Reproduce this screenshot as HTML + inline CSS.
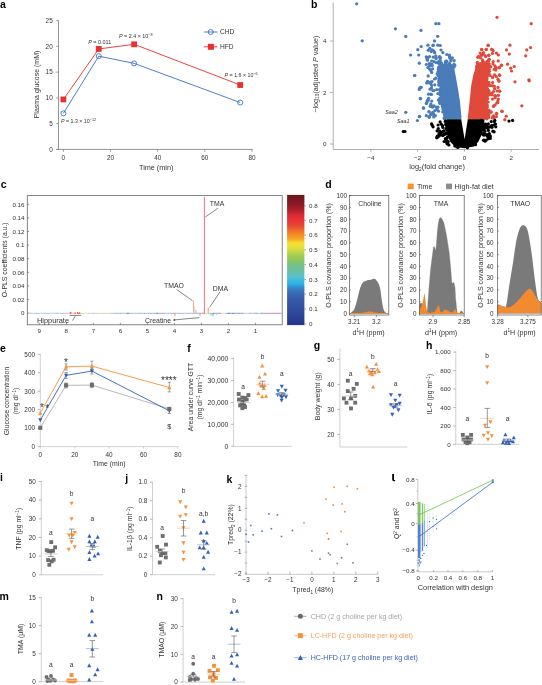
<!DOCTYPE html>
<html><head><meta charset="utf-8"><title>figure</title>
<style>
html,body{margin:0;padding:0;background:#fff;width:542px;height:685px;overflow:hidden}
svg{display:block;will-change:transform}
text{font-family:"Liberation Sans", sans-serif}
</style></head><body>
<svg width="542" height="685" viewBox="0 0 542 685" font-family="&quot;Liberation Sans&quot;, sans-serif" fill="#333">
<text x="0.00" y="7.60" font-size="10.5" font-weight="bold" fill="#000">a</text>
<line x1="58.50" y1="20.50" x2="58.50" y2="149.40" stroke="#8a8a8a" stroke-width="0.9"/>
<line x1="56.30" y1="149.40" x2="252.50" y2="149.40" stroke="#8a8a8a" stroke-width="0.9"/>
<line x1="56.30" y1="149.40" x2="58.50" y2="149.40" stroke="#8a8a8a" stroke-width="0.9"/>
<text x="52.70" y="151.67" font-size="6.4" text-anchor="end">0</text>
<line x1="56.30" y1="123.64" x2="58.50" y2="123.64" stroke="#8a8a8a" stroke-width="0.9"/>
<text x="52.70" y="125.91" font-size="6.4" text-anchor="end">5</text>
<line x1="56.30" y1="97.88" x2="58.50" y2="97.88" stroke="#8a8a8a" stroke-width="0.9"/>
<text x="52.70" y="100.15" font-size="6.4" text-anchor="end">10</text>
<line x1="56.30" y1="72.12" x2="58.50" y2="72.12" stroke="#8a8a8a" stroke-width="0.9"/>
<text x="52.70" y="74.39" font-size="6.4" text-anchor="end">15</text>
<line x1="56.30" y1="46.36" x2="58.50" y2="46.36" stroke="#8a8a8a" stroke-width="0.9"/>
<text x="52.70" y="48.63" font-size="6.4" text-anchor="end">20</text>
<line x1="56.30" y1="20.60" x2="58.50" y2="20.60" stroke="#8a8a8a" stroke-width="0.9"/>
<text x="52.70" y="22.87" font-size="6.4" text-anchor="end">25</text>
<line x1="63.40" y1="149.40" x2="63.40" y2="151.70" stroke="#8a8a8a" stroke-width="0.9"/>
<text x="63.40" y="159.67" font-size="6.4" text-anchor="middle">0</text>
<line x1="110.54" y1="149.40" x2="110.54" y2="151.70" stroke="#8a8a8a" stroke-width="0.9"/>
<text x="110.54" y="159.67" font-size="6.4" text-anchor="middle">20</text>
<line x1="157.68" y1="149.40" x2="157.68" y2="151.70" stroke="#8a8a8a" stroke-width="0.9"/>
<text x="157.68" y="159.67" font-size="6.4" text-anchor="middle">40</text>
<line x1="204.82" y1="149.40" x2="204.82" y2="151.70" stroke="#8a8a8a" stroke-width="0.9"/>
<text x="204.82" y="159.67" font-size="6.4" text-anchor="middle">60</text>
<line x1="251.96" y1="149.40" x2="251.96" y2="151.70" stroke="#8a8a8a" stroke-width="0.9"/>
<text x="251.96" y="159.67" font-size="6.4" text-anchor="middle">80</text>
<text x="156.20" y="170.17" font-size="7.25" text-anchor="middle">Time (min)</text>
<text transform="translate(36.60,84.50) rotate(-90)" x="0" y="2.48" font-size="7" text-anchor="middle">Plasma glucose (mM)</text>
<polyline points="63.40,99.43 98.75,48.94 134.11,44.30 240.18,85.00" fill="none" stroke="#e8302c" stroke-width="0.9"/>
<polyline points="63.40,113.34 98.75,56.15 134.11,63.36 240.18,102.52" fill="none" stroke="#3d6fc4" stroke-width="0.9"/>
<rect x="60.50" y="96.53" width="5.80" height="5.80" fill="#e8302c" stroke="none" stroke-width="0"/>
<rect x="95.85" y="46.04" width="5.80" height="5.80" fill="#e8302c" stroke="none" stroke-width="0"/>
<rect x="131.21" y="41.40" width="5.80" height="5.80" fill="#e8302c" stroke="none" stroke-width="0"/>
<rect x="237.28" y="82.10" width="5.80" height="5.80" fill="#e8302c" stroke="none" stroke-width="0"/>
<circle cx="63.40" cy="113.34" r="2.50" fill="none" stroke="#3d6fc4" stroke-width="0.9"/>
<circle cx="98.75" cy="56.15" r="2.50" fill="none" stroke="#3d6fc4" stroke-width="0.9"/>
<circle cx="134.11" cy="63.36" r="2.50" fill="none" stroke="#3d6fc4" stroke-width="0.9"/>
<circle cx="240.18" cy="102.52" r="2.50" fill="none" stroke="#3d6fc4" stroke-width="0.9"/>
<text x="88.2" y="43.63" font-size="6.0" fill="#333" textLength="23.0" lengthAdjust="spacingAndGlyphs"><tspan font-style="italic">P</tspan> = 0.011</text>
<text x="119.0" y="37.83" font-size="6.0" fill="#333" textLength="33.5" lengthAdjust="spacingAndGlyphs"><tspan font-style="italic">P</tspan> = 2.4 × 10<tspan dy="-2.2" font-size="4.2">−8</tspan></text>
<text x="224.6" y="77.23" font-size="6.0" fill="#333" textLength="33.0" lengthAdjust="spacingAndGlyphs"><tspan font-style="italic">P</tspan> = 1.6 × 10<tspan dy="-2.2" font-size="4.2">−6</tspan></text>
<text x="61.0" y="122.93" font-size="6.0" fill="#333" textLength="35.0" lengthAdjust="spacingAndGlyphs"><tspan font-style="italic">P</tspan> = 1.3 × 10<tspan dy="-2.2" font-size="4.2">−12</tspan></text>
<line x1="203.80" y1="32.00" x2="217.60" y2="32.00" stroke="#3d6fc4" stroke-width="0.9"/>
<circle cx="210.70" cy="32.00" r="2.50" fill="white" stroke="#3d6fc4" stroke-width="0.9"/>
<line x1="208.00" y1="32.00" x2="213.40" y2="32.00" stroke="#3d6fc4" stroke-width="0.9"/>
<text x="219.90" y="34.44" font-size="6.6">CHD</text>
<line x1="203.80" y1="46.80" x2="217.60" y2="46.80" stroke="#e8302c" stroke-width="0.9"/>
<rect x="207.90" y="43.80" width="6.00" height="6.00" fill="#e8302c" stroke="none" stroke-width="0"/>
<text x="219.90" y="49.24" font-size="6.6">HFD</text>
<text x="311.00" y="7.60" font-size="10.5" font-weight="bold" fill="#000">b</text>
<line x1="333.20" y1="2.50" x2="333.20" y2="149.50" stroke="#9a9a9a" stroke-width="0.8"/>
<line x1="333.20" y1="149.50" x2="539.00" y2="149.50" stroke="#9a9a9a" stroke-width="0.8"/>
<line x1="330.00" y1="144.00" x2="333.20" y2="144.00" stroke="#9a9a9a" stroke-width="0.8"/>
<text x="326.50" y="146.20" font-size="6.2" text-anchor="end">0</text>
<line x1="330.00" y1="92.50" x2="333.20" y2="92.50" stroke="#9a9a9a" stroke-width="0.8"/>
<text x="326.50" y="94.70" font-size="6.2" text-anchor="end">2</text>
<line x1="330.00" y1="41.00" x2="333.20" y2="41.00" stroke="#9a9a9a" stroke-width="0.8"/>
<text x="326.50" y="43.20" font-size="6.2" text-anchor="end">4</text>
<line x1="370.80" y1="149.50" x2="370.80" y2="151.80" stroke="#9a9a9a" stroke-width="0.8"/>
<text x="370.80" y="159.80" font-size="6.2" text-anchor="middle">−4</text>
<line x1="417.60" y1="149.50" x2="417.60" y2="151.80" stroke="#9a9a9a" stroke-width="0.8"/>
<text x="417.60" y="159.80" font-size="6.2" text-anchor="middle">−2</text>
<line x1="464.40" y1="149.50" x2="464.40" y2="151.80" stroke="#9a9a9a" stroke-width="0.8"/>
<text x="464.40" y="159.80" font-size="6.2" text-anchor="middle">0</text>
<line x1="511.20" y1="149.50" x2="511.20" y2="151.80" stroke="#9a9a9a" stroke-width="0.8"/>
<text x="511.20" y="159.80" font-size="6.2" text-anchor="middle">2</text>
<text x="437" y="169.16" font-size="7.4" text-anchor="middle" fill="#333">log<tspan dy="1.6" font-size="4.8">2</tspan><tspan dy="-1.6">(fold change)</tspan></text>
<text transform="translate(315.3,74.2) rotate(-90)" x="0" y="2.56" font-size="7.2" text-anchor="middle" fill="#333">−log<tspan dy="1.6" font-size="4.8">10</tspan><tspan dy="-1.6">(adjusted </tspan><tspan font-style="italic">P</tspan> value)</text>
<text x="397.80" y="113.72" font-size="5.4" text-anchor="end" font-style="italic">Saa2</text>
<text x="397.00" y="122.92" font-size="5.4" font-style="italic">Saa1</text>
<polygon points="438.50,66.00 437.90,75.50 438.40,80.70 439.90,90.90 440.40,101.10 442.50,111.30 444.50,117.40 445.00,119.30 461.40,119.30 461.40,116.40 459.90,101.00 457.80,87.80 455.50,75.00 453.70,65.00 450.00,63.50 444.00,65.00" fill="#497cb9" stroke="none" stroke-width="0"/>
<polygon points="476.30,63.20 481.00,62.00 488.00,62.50 490.60,65.20 487.50,75.40 488.50,85.70 488.50,95.90 487.50,106.10 488.50,112.00 487.00,119.40 467.60,119.40 469.10,106.10 470.20,95.90 471.20,85.70 473.20,75.40 476.30,65.20" fill="#e04a3b" stroke="none" stroke-width="0"/>
<polygon points="447.00,119.30 461.20,119.30 464.60,139.30 467.80,119.30 484.50,119.30 484.00,128.00 481.50,135.00 478.50,141.50 474.00,146.50 464.50,148.20 455.00,146.80 450.00,141.50 447.30,134.00 446.80,126.00" fill="#000" stroke="none" stroke-width="0"/>
<g fill="#497cb9"><circle cx="438.6" cy="67.4" r="1.62"/><circle cx="438.3" cy="69.1" r="1.62"/><circle cx="438.2" cy="71.2" r="1.62"/><circle cx="437.2" cy="73.7" r="1.62"/><circle cx="438.5" cy="76.0" r="1.62"/><circle cx="439.1" cy="79.1" r="1.62"/><circle cx="438.8" cy="80.8" r="1.62"/><circle cx="438.8" cy="82.4" r="1.62"/><circle cx="438.7" cy="85.1" r="1.62"/><circle cx="439.5" cy="89.6" r="1.62"/><circle cx="440.2" cy="91.6" r="1.62"/><circle cx="440.0" cy="93.9" r="1.62"/><circle cx="441.2" cy="98.0" r="1.62"/><circle cx="439.9" cy="98.9" r="1.62"/><circle cx="439.6" cy="102.0" r="1.62"/><circle cx="441.7" cy="103.9" r="1.62"/><circle cx="442.4" cy="106.4" r="1.62"/><circle cx="442.9" cy="109.0" r="1.62"/><circle cx="442.8" cy="111.9" r="1.62"/><circle cx="444.4" cy="114.8" r="1.62"/><circle cx="444.2" cy="118.4" r="1.62"/><circle cx="444.4" cy="117.9" r="1.62"/><circle cx="444.5" cy="117.5" r="1.62"/><circle cx="445.9" cy="114.5" r="1.62"/><circle cx="446.6" cy="111.6" r="1.62"/><circle cx="445.8" cy="109.4" r="1.62"/><circle cx="446.4" cy="108.7" r="1.62"/><circle cx="446.9" cy="105.6" r="1.62"/><circle cx="447.4" cy="103.9" r="1.62"/><circle cx="447.2" cy="101.5" r="1.62"/><circle cx="447.8" cy="99.2" r="1.62"/><circle cx="448.3" cy="95.4" r="1.62"/><circle cx="449.2" cy="93.8" r="1.62"/><circle cx="449.2" cy="91.4" r="1.62"/><circle cx="449.9" cy="89.0" r="1.62"/><circle cx="449.6" cy="86.0" r="1.62"/><circle cx="451.2" cy="83.8" r="1.62"/><circle cx="451.3" cy="83.8" r="1.62"/><circle cx="452.1" cy="81.4" r="1.62"/><circle cx="451.5" cy="77.1" r="1.62"/><circle cx="452.8" cy="75.7" r="1.62"/><circle cx="451.9" cy="73.9" r="1.62"/><circle cx="452.3" cy="70.5" r="1.62"/><circle cx="452.2" cy="68.2" r="1.62"/><circle cx="454.1" cy="66.9" r="1.62"/><circle cx="454.0" cy="64.2" r="1.62"/><circle cx="449.5" cy="63.4" r="1.62"/><circle cx="446.3" cy="64.0" r="1.62"/><circle cx="442.5" cy="64.9" r="1.62"/><circle cx="441.0" cy="66.0" r="1.62"/><circle cx="429.8" cy="48.3" r="1.62"/><circle cx="430.8" cy="83.8" r="1.62"/><circle cx="434.5" cy="79.0" r="1.62"/><circle cx="426.3" cy="103.5" r="1.62"/><circle cx="426.7" cy="102.8" r="1.62"/><circle cx="427.9" cy="67.5" r="1.62"/><circle cx="434.7" cy="52.7" r="1.62"/><circle cx="427.6" cy="81.3" r="1.62"/><circle cx="434.0" cy="105.8" r="1.62"/><circle cx="433.6" cy="113.9" r="1.62"/><circle cx="431.4" cy="114.1" r="1.62"/><circle cx="426.9" cy="58.8" r="1.62"/><circle cx="431.8" cy="64.1" r="1.62"/><circle cx="434.0" cy="90.6" r="1.62"/><circle cx="431.8" cy="106.1" r="1.62"/><circle cx="432.2" cy="65.7" r="1.62"/><circle cx="430.2" cy="106.2" r="1.62"/><circle cx="435.9" cy="57.8" r="1.62"/><circle cx="435.4" cy="115.6" r="1.62"/><circle cx="431.8" cy="85.5" r="1.62"/><circle cx="428.2" cy="82.7" r="1.62"/><circle cx="431.5" cy="88.0" r="1.62"/><circle cx="426.3" cy="115.7" r="1.62"/><circle cx="431.7" cy="72.4" r="1.62"/><circle cx="434.8" cy="84.8" r="1.62"/><circle cx="431.4" cy="94.5" r="1.62"/><circle cx="426.7" cy="82.9" r="1.62"/><circle cx="430.6" cy="114.7" r="1.62"/><circle cx="436.2" cy="62.5" r="1.62"/><circle cx="431.2" cy="51.6" r="1.62"/><circle cx="430.8" cy="104.0" r="1.62"/><circle cx="435.9" cy="78.2" r="1.62"/><circle cx="429.5" cy="56.6" r="1.62"/><circle cx="432.8" cy="112.3" r="1.62"/><circle cx="427.4" cy="101.2" r="1.62"/><circle cx="426.3" cy="56.8" r="1.62"/><circle cx="428.5" cy="94.2" r="1.62"/><circle cx="429.5" cy="69.0" r="1.62"/><circle cx="432.8" cy="50.0" r="1.62"/><circle cx="434.0" cy="51.3" r="1.62"/><circle cx="431.6" cy="61.0" r="1.62"/><circle cx="428.2" cy="82.3" r="1.62"/><circle cx="430.8" cy="70.6" r="1.62"/><circle cx="430.5" cy="82.2" r="1.62"/><circle cx="427.8" cy="57.5" r="1.62"/><circle cx="432.9" cy="90.5" r="1.62"/><circle cx="431.8" cy="106.7" r="1.62"/><circle cx="432.7" cy="107.1" r="1.62"/><circle cx="428.6" cy="98.3" r="1.62"/><circle cx="434.9" cy="110.6" r="1.62"/><circle cx="429.5" cy="65.9" r="1.62"/><circle cx="436.2" cy="58.6" r="1.62"/><circle cx="437.0" cy="109.5" r="1.62"/><circle cx="427.5" cy="60.2" r="1.62"/><circle cx="434.0" cy="61.7" r="1.62"/><circle cx="439.6" cy="64.3" r="1.62"/><circle cx="445.2" cy="63.9" r="1.62"/><circle cx="440.1" cy="60.0" r="1.62"/><circle cx="449.6" cy="56.2" r="1.62"/><circle cx="441.4" cy="62.8" r="1.62"/><circle cx="453.5" cy="65.7" r="1.62"/><circle cx="440.0" cy="61.1" r="1.62"/><circle cx="450.9" cy="61.0" r="1.62"/><circle cx="449.7" cy="57.9" r="1.62"/><circle cx="439.2" cy="57.1" r="1.62"/><circle cx="438.6" cy="61.5" r="1.62"/><circle cx="446.8" cy="61.7" r="1.62"/><circle cx="440.5" cy="57.8" r="1.62"/><circle cx="441.5" cy="64.4" r="1.62"/><circle cx="454.8" cy="65.3" r="1.62"/><circle cx="439.6" cy="56.6" r="1.62"/><circle cx="454.2" cy="60.6" r="1.62"/><circle cx="451.0" cy="59.3" r="1.62"/><circle cx="445.9" cy="61.2" r="1.62"/><circle cx="445.3" cy="62.0" r="1.62"/><circle cx="438.2" cy="63.0" r="1.62"/><circle cx="452.4" cy="57.8" r="1.62"/><circle cx="438.3" cy="100.0" r="1.62"/><circle cx="438.0" cy="75.0" r="1.62"/><circle cx="436.8" cy="89.6" r="1.62"/><circle cx="436.1" cy="107.1" r="1.62"/><circle cx="440.0" cy="98.4" r="1.62"/><circle cx="440.3" cy="95.0" r="1.62"/><circle cx="438.0" cy="93.6" r="1.62"/><circle cx="438.5" cy="111.2" r="1.62"/><circle cx="440.0" cy="77.9" r="1.62"/><circle cx="440.6" cy="100.2" r="1.62"/><circle cx="439.9" cy="103.5" r="1.62"/><circle cx="438.0" cy="107.2" r="1.62"/><circle cx="440.4" cy="98.0" r="1.62"/><circle cx="439.8" cy="101.2" r="1.62"/><circle cx="356.7" cy="3.8" r="1.62"/><circle cx="362.2" cy="40.8" r="1.62"/><circle cx="395.4" cy="28.8" r="1.62"/><circle cx="405.8" cy="36.4" r="1.62"/><circle cx="421.0" cy="30.4" r="1.62"/><circle cx="435.8" cy="23.7" r="1.62"/><circle cx="438.9" cy="23.7" r="1.62"/><circle cx="437.7" cy="36.3" r="1.62"/><circle cx="434.5" cy="40.9" r="1.62"/><circle cx="427.9" cy="45.2" r="1.62"/><circle cx="421.2" cy="46.5" r="1.62"/><circle cx="417.8" cy="49.7" r="1.62"/><circle cx="418.7" cy="55.0" r="1.62"/><circle cx="410.6" cy="55.0" r="1.62"/><circle cx="428.2" cy="50.3" r="1.62"/><circle cx="433.0" cy="45.5" r="1.62"/><circle cx="419.3" cy="63.2" r="1.62"/><circle cx="426.3" cy="64.5" r="1.62"/><circle cx="429.2" cy="63.6" r="1.62"/><circle cx="414.6" cy="75.5" r="1.62"/><circle cx="428.2" cy="75.9" r="1.62"/><circle cx="432.0" cy="81.6" r="1.62"/><circle cx="419.7" cy="88.2" r="1.62"/><circle cx="421.2" cy="87.3" r="1.62"/><circle cx="430.1" cy="89.2" r="1.62"/><circle cx="420.6" cy="98.7" r="1.62"/><circle cx="427.3" cy="100.6" r="1.62"/><circle cx="423.5" cy="108.2" r="1.62"/><circle cx="405.8" cy="112.3" r="1.62"/><circle cx="419.3" cy="116.7" r="1.62"/><circle cx="417.4" cy="120.5" r="1.62"/><circle cx="429.2" cy="112.0" r="1.62"/><circle cx="429.2" cy="116.7" r="1.62"/><circle cx="433.9" cy="115.7" r="1.62"/><circle cx="433.2" cy="45.2" r="1.62"/><circle cx="437.8" cy="45.2" r="1.62"/><circle cx="440.3" cy="45.5" r="1.62"/><circle cx="431.9" cy="50.0" r="1.62"/><circle cx="441.0" cy="50.0" r="1.62"/><circle cx="442.9" cy="52.6" r="1.62"/><circle cx="446.8" cy="54.5" r="1.62"/><circle cx="449.4" cy="55.2" r="1.62"/><circle cx="435.8" cy="55.8" r="1.62"/><circle cx="433.2" cy="57.1" r="1.62"/><circle cx="446.8" cy="61.0" r="1.62"/><circle cx="430.6" cy="64.2" r="1.62"/><circle cx="432.6" cy="68.8" r="1.62"/><circle cx="414.8" cy="75.5" r="1.62"/><circle cx="420.6" cy="87.3" r="1.62"/><circle cx="419.2" cy="89.4" r="1.62"/><circle cx="420.3" cy="98.6" r="1.62"/><circle cx="423.4" cy="107.8" r="1.62"/><circle cx="419.6" cy="116.3" r="1.62"/><circle cx="428.9" cy="111.5" r="1.62"/><circle cx="429.3" cy="117.3" r="1.62"/><circle cx="433.7" cy="117.0" r="1.62"/><circle cx="428.2" cy="100.4" r="1.62"/><circle cx="431.7" cy="101.1" r="1.62"/><circle cx="432.3" cy="106.2" r="1.62"/><circle cx="431.0" cy="94.2" r="1.62"/></g>
<g fill="#e04a3b"><circle cx="477.3" cy="62.3" r="1.62"/><circle cx="477.7" cy="63.4" r="1.62"/><circle cx="482.7" cy="61.1" r="1.62"/><circle cx="484.0" cy="62.7" r="1.62"/><circle cx="487.0" cy="61.5" r="1.62"/><circle cx="489.2" cy="64.0" r="1.62"/><circle cx="490.7" cy="66.7" r="1.62"/><circle cx="489.2" cy="69.3" r="1.62"/><circle cx="489.4" cy="71.3" r="1.62"/><circle cx="488.7" cy="74.0" r="1.62"/><circle cx="487.3" cy="76.4" r="1.62"/><circle cx="487.0" cy="79.0" r="1.62"/><circle cx="488.9" cy="82.3" r="1.62"/><circle cx="488.8" cy="83.8" r="1.62"/><circle cx="489.2" cy="85.4" r="1.62"/><circle cx="487.6" cy="89.4" r="1.62"/><circle cx="488.0" cy="91.8" r="1.62"/><circle cx="488.7" cy="94.8" r="1.62"/><circle cx="487.5" cy="95.8" r="1.62"/><circle cx="487.6" cy="98.7" r="1.62"/><circle cx="488.2" cy="102.0" r="1.62"/><circle cx="487.3" cy="105.0" r="1.62"/><circle cx="487.4" cy="107.0" r="1.62"/><circle cx="489.0" cy="110.2" r="1.62"/><circle cx="488.0" cy="112.0" r="1.62"/><circle cx="488.6" cy="115.8" r="1.62"/><circle cx="488.2" cy="117.4" r="1.62"/><circle cx="486.9" cy="118.8" r="1.62"/><circle cx="486.4" cy="117.3" r="1.62"/><circle cx="485.7" cy="115.2" r="1.62"/><circle cx="485.4" cy="111.0" r="1.62"/><circle cx="486.0" cy="109.8" r="1.62"/><circle cx="484.8" cy="107.4" r="1.62"/><circle cx="483.3" cy="104.8" r="1.62"/><circle cx="483.0" cy="104.4" r="1.62"/><circle cx="482.8" cy="100.9" r="1.62"/><circle cx="482.9" cy="99.5" r="1.62"/><circle cx="483.2" cy="97.9" r="1.62"/><circle cx="481.5" cy="94.8" r="1.62"/><circle cx="480.8" cy="93.1" r="1.62"/><circle cx="480.6" cy="90.0" r="1.62"/><circle cx="481.3" cy="88.7" r="1.62"/><circle cx="481.0" cy="86.0" r="1.62"/><circle cx="480.8" cy="83.0" r="1.62"/><circle cx="480.0" cy="80.8" r="1.62"/><circle cx="479.5" cy="80.7" r="1.62"/><circle cx="478.9" cy="78.6" r="1.62"/><circle cx="479.2" cy="75.1" r="1.62"/><circle cx="477.3" cy="73.6" r="1.62"/><circle cx="477.7" cy="71.3" r="1.62"/><circle cx="477.9" cy="70.3" r="1.62"/><circle cx="476.6" cy="66.9" r="1.62"/><circle cx="477.1" cy="65.6" r="1.62"/><circle cx="492.5" cy="99.1" r="1.62"/><circle cx="488.8" cy="73.2" r="1.62"/><circle cx="493.2" cy="50.7" r="1.62"/><circle cx="491.9" cy="93.4" r="1.62"/><circle cx="494.9" cy="65.8" r="1.62"/><circle cx="498.4" cy="95.3" r="1.62"/><circle cx="491.7" cy="94.9" r="1.62"/><circle cx="494.3" cy="86.2" r="1.62"/><circle cx="492.3" cy="118.0" r="1.62"/><circle cx="495.1" cy="97.7" r="1.62"/><circle cx="496.4" cy="116.6" r="1.62"/><circle cx="488.3" cy="91.8" r="1.62"/><circle cx="496.1" cy="67.5" r="1.62"/><circle cx="492.4" cy="53.4" r="1.62"/><circle cx="490.1" cy="75.5" r="1.62"/><circle cx="489.1" cy="67.1" r="1.62"/><circle cx="498.0" cy="87.4" r="1.62"/><circle cx="493.6" cy="115.8" r="1.62"/><circle cx="494.2" cy="117.7" r="1.62"/><circle cx="495.0" cy="105.0" r="1.62"/><circle cx="488.8" cy="90.6" r="1.62"/><circle cx="496.4" cy="53.1" r="1.62"/><circle cx="498.2" cy="60.9" r="1.62"/><circle cx="493.2" cy="61.5" r="1.62"/><circle cx="493.5" cy="91.6" r="1.62"/><circle cx="488.6" cy="114.3" r="1.62"/><circle cx="492.6" cy="85.8" r="1.62"/><circle cx="494.6" cy="74.9" r="1.62"/><circle cx="491.1" cy="94.5" r="1.62"/><circle cx="494.2" cy="69.3" r="1.62"/><circle cx="495.9" cy="70.1" r="1.62"/><circle cx="488.2" cy="66.7" r="1.62"/><circle cx="488.5" cy="60.6" r="1.62"/><circle cx="496.3" cy="76.5" r="1.62"/><circle cx="497.9" cy="100.9" r="1.62"/><circle cx="488.6" cy="117.2" r="1.62"/><circle cx="498.4" cy="55.0" r="1.62"/><circle cx="498.0" cy="79.2" r="1.62"/><circle cx="493.3" cy="116.2" r="1.62"/><circle cx="490.7" cy="85.6" r="1.62"/><circle cx="498.3" cy="99.1" r="1.62"/><circle cx="493.2" cy="116.6" r="1.62"/><circle cx="497.0" cy="91.0" r="1.62"/><circle cx="489.3" cy="92.4" r="1.62"/><circle cx="493.0" cy="63.8" r="1.62"/><circle cx="477.7" cy="57.3" r="1.62"/><circle cx="478.6" cy="56.4" r="1.62"/><circle cx="485.7" cy="56.6" r="1.62"/><circle cx="480.4" cy="57.8" r="1.62"/><circle cx="482.5" cy="59.8" r="1.62"/><circle cx="483.9" cy="62.0" r="1.62"/><circle cx="489.4" cy="59.3" r="1.62"/><circle cx="480.1" cy="53.1" r="1.62"/><circle cx="488.6" cy="59.8" r="1.62"/><circle cx="485.1" cy="55.6" r="1.62"/><circle cx="497.0" cy="17.3" r="1.62"/><circle cx="531.2" cy="23.7" r="1.62"/><circle cx="488.2" cy="45.5" r="1.62"/><circle cx="509.9" cy="45.2" r="1.62"/><circle cx="481.8" cy="49.7" r="1.62"/><circle cx="486.3" cy="49.3" r="1.62"/><circle cx="491.7" cy="49.4" r="1.62"/><circle cx="506.5" cy="49.9" r="1.62"/><circle cx="530.6" cy="47.6" r="1.62"/><circle cx="526.8" cy="49.9" r="1.62"/><circle cx="509.3" cy="54.1" r="1.62"/><circle cx="525.7" cy="55.8" r="1.62"/><circle cx="483.5" cy="52.6" r="1.62"/><circle cx="481.3" cy="55.1" r="1.62"/><circle cx="488.7" cy="55.3" r="1.62"/><circle cx="488.4" cy="61.4" r="1.62"/><circle cx="507.6" cy="64.2" r="1.62"/><circle cx="501.6" cy="65.3" r="1.62"/><circle cx="499.1" cy="67.5" r="1.62"/><circle cx="514.3" cy="66.5" r="1.62"/><circle cx="510.7" cy="68.2" r="1.62"/><circle cx="511.6" cy="71.0" r="1.62"/><circle cx="495.3" cy="68.9" r="1.62"/><circle cx="499.8" cy="75.3" r="1.62"/><circle cx="492.7" cy="77.4" r="1.62"/><circle cx="528.9" cy="79.8" r="1.62"/><circle cx="499.1" cy="81.0" r="1.62"/><circle cx="515.0" cy="81.8" r="1.62"/><circle cx="529.2" cy="80.8" r="1.62"/><circle cx="521.8" cy="105.8" r="1.62"/><circle cx="502.2" cy="111.5" r="1.62"/><circle cx="496.5" cy="113.3" r="1.62"/><circle cx="506.2" cy="116.2" r="1.62"/><circle cx="504.8" cy="119.7" r="1.62"/><circle cx="491.3" cy="111.9" r="1.62"/><circle cx="493.4" cy="106.2" r="1.62"/><circle cx="497.7" cy="102.7" r="1.62"/><circle cx="494.8" cy="95.6" r="1.62"/><circle cx="499.8" cy="91.3" r="1.62"/><circle cx="488.1" cy="45.2" r="1.62"/><circle cx="481.7" cy="49.4" r="1.62"/><circle cx="486.2" cy="49.4" r="1.62"/><circle cx="492.0" cy="49.4" r="1.62"/><circle cx="483.0" cy="53.9" r="1.62"/><circle cx="488.8" cy="55.2" r="1.62"/><circle cx="481.7" cy="55.2" r="1.62"/><circle cx="492.6" cy="77.0" r="1.62"/><circle cx="499.3" cy="74.9" r="1.62"/><circle cx="498.8" cy="81.1" r="1.62"/><circle cx="494.7" cy="88.7" r="1.62"/><circle cx="499.3" cy="90.8" r="1.62"/><circle cx="495.7" cy="95.9" r="1.62"/><circle cx="496.7" cy="103.0" r="1.62"/><circle cx="493.7" cy="106.1" r="1.62"/><circle cx="490.6" cy="112.2" r="1.62"/><circle cx="496.7" cy="113.8" r="1.62"/><circle cx="501.8" cy="111.2" r="1.62"/><circle cx="488.0" cy="116.8" r="1.62"/><circle cx="492.6" cy="82.6" r="1.62"/><circle cx="495.7" cy="68.3" r="1.62"/><circle cx="499.3" cy="67.8" r="1.62"/><circle cx="501.3" cy="65.2" r="1.62"/></g>
<g fill="#000"><circle cx="439.0" cy="133.7" r="1.62"/><circle cx="442.2" cy="131.8" r="1.62"/><circle cx="443.0" cy="135.1" r="1.62"/><circle cx="438.1" cy="125.0" r="1.62"/><circle cx="446.8" cy="138.3" r="1.62"/><circle cx="445.7" cy="120.8" r="1.62"/><circle cx="440.7" cy="132.5" r="1.62"/><circle cx="437.1" cy="130.8" r="1.62"/><circle cx="443.4" cy="131.0" r="1.62"/><circle cx="442.9" cy="127.5" r="1.62"/><circle cx="441.3" cy="124.2" r="1.62"/><circle cx="439.8" cy="134.9" r="1.62"/><circle cx="445.2" cy="121.5" r="1.62"/><circle cx="437.3" cy="136.2" r="1.62"/><circle cx="442.9" cy="135.4" r="1.62"/><circle cx="438.3" cy="128.5" r="1.62"/><circle cx="438.8" cy="136.2" r="1.62"/><circle cx="440.1" cy="133.1" r="1.62"/><circle cx="446.9" cy="126.5" r="1.62"/><circle cx="442.0" cy="134.9" r="1.62"/><circle cx="446.1" cy="128.6" r="1.62"/><circle cx="440.1" cy="121.9" r="1.62"/><circle cx="484.9" cy="131.3" r="1.62"/><circle cx="489.3" cy="133.7" r="1.62"/><circle cx="487.3" cy="135.5" r="1.62"/><circle cx="484.8" cy="124.3" r="1.62"/><circle cx="491.3" cy="121.6" r="1.62"/><circle cx="487.3" cy="134.5" r="1.62"/><circle cx="491.6" cy="125.7" r="1.62"/><circle cx="485.6" cy="127.2" r="1.62"/><circle cx="492.0" cy="127.3" r="1.62"/><circle cx="485.3" cy="134.2" r="1.62"/><circle cx="490.3" cy="138.4" r="1.62"/><circle cx="488.8" cy="136.1" r="1.62"/><circle cx="487.4" cy="126.4" r="1.62"/><circle cx="488.4" cy="138.7" r="1.62"/><circle cx="493.8" cy="125.0" r="1.62"/><circle cx="488.0" cy="127.3" r="1.62"/><circle cx="488.0" cy="127.9" r="1.62"/><circle cx="488.3" cy="123.9" r="1.62"/><circle cx="490.2" cy="135.9" r="1.62"/><circle cx="489.9" cy="136.7" r="1.62"/><circle cx="445.6" cy="124.6" r="1.62"/><circle cx="447.6" cy="142.9" r="1.62"/><circle cx="445.2" cy="134.1" r="1.62"/><circle cx="446.5" cy="140.9" r="1.62"/><circle cx="447.9" cy="122.2" r="1.62"/><circle cx="449.0" cy="122.2" r="1.62"/><circle cx="446.3" cy="123.7" r="1.62"/><circle cx="447.5" cy="136.9" r="1.62"/><circle cx="442.5" cy="125.7" r="1.62"/><circle cx="447.7" cy="133.6" r="1.62"/><circle cx="447.6" cy="130.3" r="1.62"/><circle cx="446.7" cy="132.8" r="1.62"/><circle cx="445.4" cy="138.7" r="1.62"/><circle cx="447.1" cy="143.8" r="1.62"/><circle cx="444.1" cy="141.5" r="1.62"/><circle cx="446.7" cy="142.2" r="1.62"/><circle cx="448.1" cy="141.7" r="1.62"/><circle cx="448.9" cy="144.9" r="1.62"/><circle cx="446.4" cy="133.6" r="1.62"/><circle cx="447.1" cy="140.9" r="1.62"/><circle cx="444.2" cy="130.9" r="1.62"/><circle cx="449.9" cy="129.8" r="1.62"/><circle cx="480.8" cy="125.3" r="1.62"/><circle cx="483.7" cy="127.6" r="1.62"/><circle cx="482.4" cy="123.0" r="1.62"/><circle cx="486.1" cy="140.2" r="1.62"/><circle cx="481.0" cy="121.6" r="1.62"/><circle cx="484.0" cy="135.2" r="1.62"/><circle cx="480.2" cy="124.8" r="1.62"/><circle cx="481.4" cy="126.1" r="1.62"/><circle cx="486.9" cy="135.5" r="1.62"/><circle cx="481.5" cy="124.8" r="1.62"/><circle cx="482.1" cy="124.5" r="1.62"/><circle cx="487.3" cy="128.1" r="1.62"/><circle cx="485.0" cy="141.2" r="1.62"/><circle cx="484.3" cy="126.8" r="1.62"/><circle cx="482.8" cy="134.2" r="1.62"/><circle cx="481.4" cy="121.3" r="1.62"/><circle cx="483.2" cy="133.7" r="1.62"/><circle cx="484.7" cy="127.1" r="1.62"/><circle cx="481.6" cy="120.3" r="1.62"/><circle cx="484.2" cy="129.7" r="1.62"/><circle cx="485.7" cy="124.1" r="1.62"/><circle cx="480.7" cy="128.4" r="1.62"/><circle cx="465.0" cy="146.5" r="1.62"/><circle cx="465.6" cy="143.8" r="1.62"/><circle cx="473.4" cy="143.0" r="1.62"/><circle cx="475.1" cy="143.5" r="1.62"/><circle cx="456.9" cy="146.9" r="1.62"/><circle cx="467.4" cy="147.7" r="1.62"/><circle cx="458.0" cy="147.3" r="1.62"/><circle cx="454.9" cy="146.0" r="1.62"/><circle cx="465.3" cy="143.9" r="1.62"/><circle cx="475.5" cy="144.7" r="1.62"/><circle cx="458.3" cy="143.4" r="1.62"/><circle cx="458.1" cy="145.6" r="1.62"/><circle cx="471.6" cy="145.0" r="1.62"/><circle cx="470.7" cy="143.6" r="1.62"/><circle cx="461.0" cy="145.5" r="1.62"/><circle cx="469.6" cy="143.1" r="1.62"/><circle cx="403.3" cy="131.5" r="1.62"/><circle cx="405.0" cy="131.5" r="1.62"/><circle cx="431.6" cy="123.8" r="1.62"/><circle cx="433.1" cy="126.8" r="1.62"/><circle cx="436.8" cy="137.8" r="1.62"/><circle cx="439.8" cy="131.2" r="1.62"/><circle cx="444.2" cy="134.1" r="1.62"/><circle cx="437.2" cy="137.5" r="1.62"/><circle cx="432.3" cy="125.3" r="1.62"/><circle cx="494.4" cy="121.6" r="1.62"/><circle cx="495.8" cy="126.8" r="1.62"/><circle cx="490.0" cy="126.8" r="1.62"/><circle cx="492.9" cy="131.2" r="1.62"/><circle cx="484.0" cy="140.0" r="1.62"/><circle cx="494.8" cy="120.4" r="1.62"/><circle cx="509.0" cy="121.1" r="1.62"/><circle cx="512.6" cy="120.4" r="1.62"/><circle cx="495.5" cy="124.0" r="1.62"/><circle cx="491.3" cy="126.1" r="1.62"/><circle cx="494.1" cy="131.8" r="1.62"/><circle cx="488.4" cy="130.4" r="1.62"/><circle cx="487.7" cy="136.8" r="1.62"/><circle cx="483.5" cy="140.3" r="1.62"/></g>
<text x="0.80" y="188.30" font-size="10.5" font-weight="bold" fill="#000">c</text>
<line x1="27.30" y1="204.30" x2="29.10" y2="204.30" stroke="#666" stroke-width="0.7"/>
<text x="24.50" y="206.50" font-size="6.2" text-anchor="end">0.16</text>
<line x1="27.30" y1="217.90" x2="29.10" y2="217.90" stroke="#666" stroke-width="0.7"/>
<text x="24.50" y="220.10" font-size="6.2" text-anchor="end">0.14</text>
<line x1="27.30" y1="231.50" x2="29.10" y2="231.50" stroke="#666" stroke-width="0.7"/>
<text x="24.50" y="233.70" font-size="6.2" text-anchor="end">0.12</text>
<line x1="27.30" y1="245.10" x2="29.10" y2="245.10" stroke="#666" stroke-width="0.7"/>
<text x="24.50" y="247.30" font-size="6.2" text-anchor="end">0.1</text>
<line x1="27.30" y1="258.70" x2="29.10" y2="258.70" stroke="#666" stroke-width="0.7"/>
<text x="24.50" y="260.90" font-size="6.2" text-anchor="end">0.08</text>
<line x1="27.30" y1="272.30" x2="29.10" y2="272.30" stroke="#666" stroke-width="0.7"/>
<text x="24.50" y="274.50" font-size="6.2" text-anchor="end">0.06</text>
<line x1="27.30" y1="285.90" x2="29.10" y2="285.90" stroke="#666" stroke-width="0.7"/>
<text x="24.50" y="288.10" font-size="6.2" text-anchor="end">0.04</text>
<line x1="27.30" y1="299.50" x2="29.10" y2="299.50" stroke="#666" stroke-width="0.7"/>
<text x="24.50" y="301.70" font-size="6.2" text-anchor="end">0.02</text>
<line x1="27.30" y1="313.10" x2="29.10" y2="313.10" stroke="#666" stroke-width="0.7"/>
<text x="24.50" y="315.30" font-size="6.2" text-anchor="end">0</text>
<line x1="255.54" y1="324.80" x2="255.54" y2="322.80" stroke="#666" stroke-width="0.7"/>
<text x="255.54" y="333.20" font-size="6.2" text-anchor="middle">1</text>
<line x1="228.51" y1="324.80" x2="228.51" y2="322.80" stroke="#666" stroke-width="0.7"/>
<text x="228.51" y="333.20" font-size="6.2" text-anchor="middle">2</text>
<line x1="201.48" y1="324.80" x2="201.48" y2="322.80" stroke="#666" stroke-width="0.7"/>
<text x="201.48" y="333.20" font-size="6.2" text-anchor="middle">3</text>
<line x1="174.45" y1="324.80" x2="174.45" y2="322.80" stroke="#666" stroke-width="0.7"/>
<text x="174.45" y="333.20" font-size="6.2" text-anchor="middle">4</text>
<line x1="147.42" y1="324.80" x2="147.42" y2="322.80" stroke="#666" stroke-width="0.7"/>
<text x="147.42" y="333.20" font-size="6.2" text-anchor="middle">5</text>
<line x1="120.39" y1="324.80" x2="120.39" y2="322.80" stroke="#666" stroke-width="0.7"/>
<text x="120.39" y="333.20" font-size="6.2" text-anchor="middle">6</text>
<line x1="93.36" y1="324.80" x2="93.36" y2="322.80" stroke="#666" stroke-width="0.7"/>
<text x="93.36" y="333.20" font-size="6.2" text-anchor="middle">7</text>
<line x1="66.33" y1="324.80" x2="66.33" y2="322.80" stroke="#666" stroke-width="0.7"/>
<text x="66.33" y="333.20" font-size="6.2" text-anchor="middle">8</text>
<line x1="39.30" y1="324.80" x2="39.30" y2="322.80" stroke="#666" stroke-width="0.7"/>
<text x="39.30" y="333.20" font-size="6.2" text-anchor="middle">9</text>
<text transform="translate(4.60,259.80) rotate(-90)" x="0" y="2.45" font-size="6.9" text-anchor="middle">O-PLS coefficients (a.u.)</text>
<line x1="27.80" y1="313.30" x2="30.25" y2="313.30" stroke="#bcc8e0" stroke-width="1.0"/>
<line x1="30.25" y1="313.30" x2="33.04" y2="313.30" stroke="#b0c8e8" stroke-width="1.0"/>
<line x1="33.04" y1="313.30" x2="34.29" y2="313.30" stroke="#c0d0e0" stroke-width="1.0"/>
<line x1="34.29" y1="313.30" x2="37.05" y2="313.30" stroke="#a8c0e4" stroke-width="1.0"/>
<line x1="37.05" y1="313.30" x2="39.54" y2="313.30" stroke="#a8c0e4" stroke-width="1.0"/>
<line x1="39.54" y1="313.30" x2="40.97" y2="313.30" stroke="#c0d0e0" stroke-width="1.0"/>
<line x1="40.97" y1="313.30" x2="43.91" y2="313.30" stroke="#c0d0e0" stroke-width="1.0"/>
<line x1="43.91" y1="313.30" x2="46.19" y2="313.30" stroke="#b0c8e8" stroke-width="1.0"/>
<line x1="46.19" y1="313.30" x2="47.89" y2="313.30" stroke="#a8c0e4" stroke-width="1.0"/>
<line x1="47.89" y1="313.30" x2="49.91" y2="313.30" stroke="#a8c0e4" stroke-width="1.0"/>
<line x1="49.91" y1="313.30" x2="52.94" y2="313.30" stroke="#c0d0e0" stroke-width="1.0"/>
<line x1="52.94" y1="313.30" x2="54.46" y2="313.30" stroke="#b4c4e4" stroke-width="1.0"/>
<line x1="54.46" y1="313.30" x2="55.94" y2="313.30" stroke="#b0c8e8" stroke-width="1.0"/>
<line x1="55.94" y1="313.30" x2="58.03" y2="313.30" stroke="#a8c0e4" stroke-width="1.0"/>
<line x1="58.03" y1="313.30" x2="59.23" y2="313.30" stroke="#b4c4e4" stroke-width="1.0"/>
<line x1="59.23" y1="313.30" x2="60.85" y2="313.30" stroke="#a8c0e4" stroke-width="1.0"/>
<line x1="60.85" y1="313.30" x2="63.97" y2="313.30" stroke="#a8c0e4" stroke-width="1.0"/>
<line x1="63.97" y1="313.30" x2="66.92" y2="313.30" stroke="#bcc8e0" stroke-width="1.0"/>
<line x1="66.92" y1="313.30" x2="68.74" y2="313.30" stroke="#f0c8a0" stroke-width="1.0"/>
<line x1="68.74" y1="313.30" x2="71.02" y2="313.30" stroke="#d0d8c0" stroke-width="1.0"/>
<line x1="71.02" y1="313.30" x2="73.47" y2="313.30" stroke="#f0c8a0" stroke-width="1.0"/>
<line x1="73.47" y1="313.30" x2="76.56" y2="313.30" stroke="#d0d8c0" stroke-width="1.0"/>
<line x1="76.56" y1="313.30" x2="78.15" y2="313.30" stroke="#b8c8e0" stroke-width="1.0"/>
<line x1="78.15" y1="313.30" x2="79.95" y2="313.30" stroke="#c8d8c8" stroke-width="1.0"/>
<line x1="79.95" y1="313.30" x2="81.98" y2="313.30" stroke="#f0c8a0" stroke-width="1.0"/>
<line x1="81.98" y1="313.30" x2="83.70" y2="313.30" stroke="#c8d8c8" stroke-width="1.0"/>
<line x1="83.70" y1="313.30" x2="85.51" y2="313.30" stroke="#f0e0a0" stroke-width="1.0"/>
<line x1="85.51" y1="313.30" x2="87.88" y2="313.30" stroke="#f0e0a0" stroke-width="1.0"/>
<line x1="87.88" y1="313.30" x2="90.44" y2="313.30" stroke="#c8d8c8" stroke-width="1.0"/>
<line x1="90.44" y1="313.30" x2="91.77" y2="313.30" stroke="#c8d8c8" stroke-width="1.0"/>
<line x1="91.77" y1="313.30" x2="94.60" y2="313.30" stroke="#b8c8e0" stroke-width="1.0"/>
<line x1="94.60" y1="313.30" x2="97.20" y2="313.30" stroke="#f0c8a0" stroke-width="1.0"/>
<line x1="97.20" y1="313.30" x2="99.36" y2="313.30" stroke="#d0d8c0" stroke-width="1.0"/>
<line x1="99.36" y1="313.30" x2="100.91" y2="313.30" stroke="#c8d8c8" stroke-width="1.0"/>
<line x1="100.91" y1="313.30" x2="104.06" y2="313.30" stroke="#e8d0a8" stroke-width="1.0"/>
<line x1="104.06" y1="313.30" x2="107.16" y2="313.30" stroke="#c8d8c8" stroke-width="1.0"/>
<line x1="107.16" y1="313.30" x2="110.05" y2="313.30" stroke="#e8d0a8" stroke-width="1.0"/>
<line x1="110.05" y1="313.30" x2="112.35" y2="313.30" stroke="#b8c8e0" stroke-width="1.0"/>
<line x1="112.35" y1="313.30" x2="114.28" y2="313.30" stroke="#a8b8e0" stroke-width="1.0"/>
<line x1="114.28" y1="313.30" x2="116.39" y2="313.30" stroke="#9ca8d8" stroke-width="1.0"/>
<line x1="116.39" y1="313.30" x2="119.50" y2="313.30" stroke="#a8b0dc" stroke-width="1.0"/>
<line x1="119.50" y1="313.30" x2="122.55" y2="313.30" stroke="#a0a8d0" stroke-width="1.0"/>
<line x1="122.55" y1="313.30" x2="124.46" y2="313.30" stroke="#a8b8e0" stroke-width="1.0"/>
<line x1="124.46" y1="313.30" x2="126.59" y2="313.30" stroke="#a8b8e0" stroke-width="1.0"/>
<line x1="126.59" y1="313.30" x2="129.38" y2="313.30" stroke="#6070c0" stroke-width="1.0"/>
<line x1="129.38" y1="313.30" x2="132.48" y2="313.30" stroke="#a8b0dc" stroke-width="1.0"/>
<line x1="132.48" y1="313.30" x2="134.70" y2="313.30" stroke="#b0b8dc" stroke-width="1.0"/>
<line x1="134.70" y1="313.30" x2="136.58" y2="313.30" stroke="#a8b8e0" stroke-width="1.0"/>
<line x1="136.58" y1="313.30" x2="139.15" y2="313.30" stroke="#b0b8dc" stroke-width="1.0"/>
<line x1="139.15" y1="313.30" x2="140.51" y2="313.30" stroke="#9ca8d8" stroke-width="1.0"/>
<line x1="140.51" y1="313.30" x2="142.33" y2="313.30" stroke="#a0a8d0" stroke-width="1.0"/>
<line x1="142.33" y1="313.30" x2="143.63" y2="313.30" stroke="#a8b8e0" stroke-width="1.0"/>
<line x1="143.63" y1="313.30" x2="145.64" y2="313.30" stroke="#9ca8d8" stroke-width="1.0"/>
<line x1="145.64" y1="313.30" x2="147.53" y2="313.30" stroke="#b0b8dc" stroke-width="1.0"/>
<line x1="147.53" y1="313.30" x2="149.57" y2="313.30" stroke="#a8b0dc" stroke-width="1.0"/>
<line x1="149.57" y1="313.30" x2="152.05" y2="313.30" stroke="#a0a8d0" stroke-width="1.0"/>
<line x1="152.05" y1="313.30" x2="153.66" y2="313.30" stroke="#a8b8e0" stroke-width="1.0"/>
<line x1="153.66" y1="313.30" x2="156.12" y2="313.30" stroke="#a0a8d0" stroke-width="1.0"/>
<line x1="156.12" y1="313.30" x2="158.19" y2="313.30" stroke="#6070c0" stroke-width="1.0"/>
<line x1="158.19" y1="313.30" x2="160.23" y2="313.30" stroke="#9ca8d8" stroke-width="1.0"/>
<line x1="160.23" y1="313.30" x2="163.43" y2="313.30" stroke="#9ca8d8" stroke-width="1.0"/>
<line x1="163.43" y1="313.30" x2="165.54" y2="313.30" stroke="#a0a8d0" stroke-width="1.0"/>
<line x1="165.54" y1="313.30" x2="167.37" y2="313.30" stroke="#b0b8dc" stroke-width="1.0"/>
<line x1="167.37" y1="313.30" x2="169.38" y2="313.30" stroke="#9ca8d8" stroke-width="1.0"/>
<line x1="169.38" y1="313.30" x2="172.22" y2="313.30" stroke="#a8b8e0" stroke-width="1.0"/>
<line x1="172.22" y1="313.30" x2="174.68" y2="313.30" stroke="#a0a8d0" stroke-width="1.0"/>
<line x1="174.68" y1="313.30" x2="176.24" y2="313.30" stroke="#a0a8d0" stroke-width="1.0"/>
<line x1="176.24" y1="313.30" x2="179.00" y2="313.30" stroke="#a8b8e0" stroke-width="1.0"/>
<line x1="179.00" y1="313.30" x2="181.77" y2="313.30" stroke="#b0b8dc" stroke-width="1.0"/>
<line x1="181.77" y1="313.30" x2="184.30" y2="313.30" stroke="#b0b8dc" stroke-width="1.0"/>
<line x1="184.30" y1="313.30" x2="186.91" y2="313.30" stroke="#b0b8dc" stroke-width="1.0"/>
<line x1="186.91" y1="313.30" x2="188.64" y2="313.30" stroke="#b0b8dc" stroke-width="1.0"/>
<line x1="188.64" y1="313.30" x2="190.52" y2="313.30" stroke="#9ca8d8" stroke-width="1.0"/>
<line x1="190.52" y1="313.30" x2="191.74" y2="313.30" stroke="#a8b8e0" stroke-width="1.0"/>
<line x1="191.74" y1="313.30" x2="193.60" y2="313.30" stroke="#b0b8dc" stroke-width="1.0"/>
<line x1="193.60" y1="313.30" x2="196.43" y2="313.30" stroke="#b0b8dc" stroke-width="1.0"/>
<line x1="196.43" y1="313.30" x2="198.92" y2="313.30" stroke="#a0a8d0" stroke-width="1.0"/>
<line x1="198.92" y1="313.30" x2="201.80" y2="313.30" stroke="#a0a8d0" stroke-width="1.0"/>
<line x1="201.80" y1="313.30" x2="204.92" y2="313.30" stroke="#9098c8" stroke-width="1.0"/>
<line x1="204.92" y1="313.30" x2="208.08" y2="313.30" stroke="#e0d890" stroke-width="1.0"/>
<line x1="208.08" y1="313.30" x2="211.15" y2="313.30" stroke="#a0d0c0" stroke-width="1.0"/>
<line x1="211.15" y1="313.30" x2="212.51" y2="313.30" stroke="#a0d0c0" stroke-width="1.0"/>
<line x1="212.51" y1="313.30" x2="215.27" y2="313.30" stroke="#9098c8" stroke-width="1.0"/>
<line x1="215.27" y1="313.30" x2="218.34" y2="313.30" stroke="#8898d0" stroke-width="1.0"/>
<line x1="218.34" y1="313.30" x2="221.09" y2="313.30" stroke="#8898d0" stroke-width="1.0"/>
<line x1="221.09" y1="313.30" x2="222.35" y2="313.30" stroke="#e0d890" stroke-width="1.0"/>
<line x1="222.35" y1="313.30" x2="224.79" y2="313.30" stroke="#e0d890" stroke-width="1.0"/>
<line x1="224.79" y1="313.30" x2="227.37" y2="313.30" stroke="#90c8d8" stroke-width="1.0"/>
<line x1="227.37" y1="313.30" x2="230.53" y2="313.30" stroke="#6070c0" stroke-width="1.0"/>
<line x1="230.53" y1="313.30" x2="231.99" y2="313.30" stroke="#8898d0" stroke-width="1.0"/>
<line x1="231.99" y1="313.30" x2="234.16" y2="313.30" stroke="#6070c0" stroke-width="1.0"/>
<line x1="234.16" y1="313.30" x2="236.29" y2="313.30" stroke="#9890c4" stroke-width="1.0"/>
<line x1="236.29" y1="313.30" x2="237.63" y2="313.30" stroke="#9494c8" stroke-width="1.0"/>
<line x1="237.63" y1="313.30" x2="240.64" y2="313.30" stroke="#8c8cc8" stroke-width="1.0"/>
<line x1="240.64" y1="313.30" x2="243.74" y2="313.30" stroke="#9890c4" stroke-width="1.0"/>
<line x1="243.74" y1="313.30" x2="246.32" y2="313.30" stroke="#b0c8d8" stroke-width="1.0"/>
<line x1="246.32" y1="313.30" x2="247.59" y2="313.30" stroke="#b0c8d8" stroke-width="1.0"/>
<line x1="247.59" y1="313.30" x2="249.38" y2="313.30" stroke="#b0c8d8" stroke-width="1.0"/>
<line x1="249.38" y1="313.30" x2="251.75" y2="313.30" stroke="#a0a0d0" stroke-width="1.0"/>
<line x1="251.75" y1="313.30" x2="253.78" y2="313.30" stroke="#b0c8d8" stroke-width="1.0"/>
<line x1="253.78" y1="313.30" x2="255.72" y2="313.30" stroke="#9494c8" stroke-width="1.0"/>
<line x1="255.72" y1="313.30" x2="257.69" y2="313.30" stroke="#9890c4" stroke-width="1.0"/>
<line x1="257.69" y1="313.30" x2="260.82" y2="313.30" stroke="#b0c8d8" stroke-width="1.0"/>
<line x1="260.82" y1="313.30" x2="263.67" y2="313.30" stroke="#8c8cc8" stroke-width="1.0"/>
<line x1="263.67" y1="313.30" x2="265.52" y2="313.30" stroke="#b890b8" stroke-width="1.0"/>
<line x1="265.52" y1="313.30" x2="267.37" y2="313.30" stroke="#b890b8" stroke-width="1.0"/>
<line x1="267.37" y1="313.30" x2="269.43" y2="313.30" stroke="#b488b8" stroke-width="1.0"/>
<line x1="269.43" y1="313.30" x2="271.59" y2="313.30" stroke="#b890b8" stroke-width="1.0"/>
<line x1="271.59" y1="313.30" x2="274.71" y2="313.30" stroke="#b488b8" stroke-width="1.0"/>
<line x1="274.71" y1="313.30" x2="276.43" y2="313.30" stroke="#b080b0" stroke-width="1.0"/>
<line x1="276.43" y1="313.30" x2="278.47" y2="313.30" stroke="#b080b0" stroke-width="1.0"/>
<line x1="278.47" y1="313.30" x2="280.28" y2="313.30" stroke="#b080b0" stroke-width="1.0"/>
<line x1="280.28" y1="313.30" x2="281.53" y2="313.30" stroke="#b890b8" stroke-width="1.0"/>
<line x1="281.53" y1="313.30" x2="281.70" y2="313.30" stroke="#6070c0" stroke-width="1.0"/>
<line x1="69.70" y1="313.10" x2="70.90" y2="313.10" stroke="#e03030" stroke-width="1.1"/>
<line x1="74.50" y1="313.10" x2="75.70" y2="313.10" stroke="#e03030" stroke-width="1.1"/>
<line x1="77.40" y1="313.10" x2="78.60" y2="313.10" stroke="#e03030" stroke-width="1.1"/>
<line x1="79.00" y1="313.10" x2="80.20" y2="313.10" stroke="#e03030" stroke-width="1.1"/>
<line x1="204.40" y1="313.10" x2="204.40" y2="196.80" stroke="#ec4048" stroke-width="0.75"/>
<line x1="193.50" y1="313.10" x2="193.50" y2="300.60" stroke="#f4b090" stroke-width="1.1"/>
<line x1="194.60" y1="313.10" x2="194.60" y2="306.00" stroke="#f8c8a8" stroke-width="0.8"/>
<line x1="208.20" y1="313.10" x2="208.20" y2="307.60" stroke="#f08a50" stroke-width="0.9"/>
<line x1="174.90" y1="313.10" x2="174.90" y2="316.20" stroke="#f0a060" stroke-width="1.0"/>
<line x1="200.00" y1="313.10" x2="200.00" y2="316.40" stroke="#f0a060" stroke-width="1.0"/>
<line x1="211.00" y1="313.10" x2="211.00" y2="315.50" stroke="#50b0d8" stroke-width="0.8"/>
<line x1="213.00" y1="313.10" x2="213.00" y2="316.00" stroke="#5090d0" stroke-width="0.8"/>
<line x1="216.50" y1="313.10" x2="216.50" y2="315.20" stroke="#e0d060" stroke-width="0.8"/>
<line x1="196.00" y1="313.10" x2="196.00" y2="310.00" stroke="#60c0d0" stroke-width="0.8"/>
<line x1="71.00" y1="313.10" x2="71.00" y2="311.80" stroke="#e8403a" stroke-width="0.8"/>
<line x1="77.50" y1="313.10" x2="77.50" y2="311.80" stroke="#e8403a" stroke-width="0.8"/>
<rect x="27.3" y="195.6" width="254.89999999999998" height="129.20000000000002" fill="none" stroke="#666" stroke-width="0.8"/>
<text x="209.80" y="206.35" font-size="6.9">TMA</text>
<line x1="205.30" y1="217.00" x2="217.80" y2="208.30" stroke="#333" stroke-width="0.6"/>
<text x="174.00" y="288.15" font-size="6.9" text-anchor="middle">TMAO</text>
<line x1="176.60" y1="289.50" x2="192.60" y2="300.70" stroke="#333" stroke-width="0.6"/>
<text x="220.40" y="291.05" font-size="6.9" text-anchor="middle">DMA</text>
<line x1="220.00" y1="291.90" x2="209.70" y2="307.20" stroke="#333" stroke-width="0.6"/>
<text x="158.00" y="323.05" font-size="6.9" text-anchor="middle">Creatine</text>
<line x1="173.70" y1="320.00" x2="199.40" y2="317.60" stroke="#333" stroke-width="0.6"/>
<polygon points="172.80,320.10 175.00,319.00 175.10,321.00" fill="#333" stroke="none" stroke-width="0"/>
<text x="53.00" y="323.23" font-size="7.4" text-anchor="middle">Hippurate</text>
<line x1="69.60" y1="315.40" x2="81.00" y2="315.40" stroke="#333" stroke-width="0.6"/>
<line x1="75.50" y1="315.70" x2="72.50" y2="320.50" stroke="#333" stroke-width="0.6"/>
<defs><linearGradient id="cbar" x1="0" y1="0" x2="0" y2="1"><stop offset="0.000" stop-color="#6b1520"/><stop offset="0.070" stop-color="#8a1a25"/><stop offset="0.120" stop-color="#b0202c"/><stop offset="0.160" stop-color="#e02a35"/><stop offset="0.200" stop-color="#e83535"/><stop offset="0.240" stop-color="#e84a30"/><stop offset="0.270" stop-color="#ee6a2a"/><stop offset="0.300" stop-color="#f28a28"/><stop offset="0.340" stop-color="#f5a825"/><stop offset="0.370" stop-color="#f5e030"/><stop offset="0.400" stop-color="#e8e040"/><stop offset="0.430" stop-color="#c8d848"/><stop offset="0.470" stop-color="#a0cc50"/><stop offset="0.510" stop-color="#88c468"/><stop offset="0.550" stop-color="#70c090"/><stop offset="0.590" stop-color="#68c0a8"/><stop offset="0.630" stop-color="#58c0d0"/><stop offset="0.660" stop-color="#38bce0"/><stop offset="0.680" stop-color="#30b0e4"/><stop offset="0.700" stop-color="#3098d8"/><stop offset="0.730" stop-color="#3a78c0"/><stop offset="0.760" stop-color="#3a68b4"/><stop offset="0.800" stop-color="#3858a8"/><stop offset="0.900" stop-color="#2e4a9c"/><stop offset="0.960" stop-color="#283c90"/><stop offset="1.000" stop-color="#24348a"/></linearGradient></defs>
<rect x="287.10" y="194.90" width="17.30" height="130.20" fill="url(#cbar)" stroke="none" stroke-width="0"/>
<line x1="304.40" y1="205.80" x2="306.00" y2="205.80" stroke="#666" stroke-width="0.6"/>
<text x="309.00" y="208.00" font-size="6.2">0.8</text>
<line x1="304.40" y1="220.30" x2="306.00" y2="220.30" stroke="#666" stroke-width="0.6"/>
<text x="309.00" y="222.50" font-size="6.2">0.7</text>
<line x1="304.40" y1="235.00" x2="306.00" y2="235.00" stroke="#666" stroke-width="0.6"/>
<text x="309.00" y="237.20" font-size="6.2">0.6</text>
<line x1="304.40" y1="249.80" x2="306.00" y2="249.80" stroke="#666" stroke-width="0.6"/>
<text x="309.00" y="252.00" font-size="6.2">0.5</text>
<line x1="304.40" y1="264.60" x2="306.00" y2="264.60" stroke="#666" stroke-width="0.6"/>
<text x="309.00" y="266.80" font-size="6.2">0.4</text>
<line x1="304.40" y1="279.40" x2="306.00" y2="279.40" stroke="#666" stroke-width="0.6"/>
<text x="309.00" y="281.60" font-size="6.2">0.3</text>
<line x1="304.40" y1="294.20" x2="306.00" y2="294.20" stroke="#666" stroke-width="0.6"/>
<text x="309.00" y="296.40" font-size="6.2">0.2</text>
<line x1="304.40" y1="309.00" x2="306.00" y2="309.00" stroke="#666" stroke-width="0.6"/>
<text x="309.00" y="311.20" font-size="6.2">0.1</text>
<line x1="304.40" y1="323.80" x2="306.00" y2="323.80" stroke="#666" stroke-width="0.6"/>
<text x="309.00" y="326.00" font-size="6.2">0</text>
<text x="325.30" y="188.40" font-size="10.5" font-weight="bold" fill="#000">d</text>
<rect x="407.70" y="183.60" width="6.00" height="5.60" fill="#f5922f" stroke="none" stroke-width="0"/>
<text x="417.00" y="188.99" font-size="7">Time</text>
<rect x="446.00" y="183.60" width="6.00" height="5.60" fill="#8c8c8c" stroke="none" stroke-width="0"/>
<text x="454.60" y="189.07" font-size="7.25">High-fat diet</text>
<line x1="349.40" y1="313.50" x2="350.90" y2="313.50" stroke="#555" stroke-width="0.6"/>
<text x="346.90" y="315.74" font-size="6.3" text-anchor="end">0</text>
<line x1="349.40" y1="301.72" x2="350.90" y2="301.72" stroke="#555" stroke-width="0.6"/>
<text x="346.90" y="303.96" font-size="6.3" text-anchor="end">10</text>
<line x1="349.40" y1="289.94" x2="350.90" y2="289.94" stroke="#555" stroke-width="0.6"/>
<text x="346.90" y="292.18" font-size="6.3" text-anchor="end">20</text>
<line x1="349.40" y1="278.16" x2="350.90" y2="278.16" stroke="#555" stroke-width="0.6"/>
<text x="346.90" y="280.40" font-size="6.3" text-anchor="end">30</text>
<line x1="349.40" y1="266.38" x2="350.90" y2="266.38" stroke="#555" stroke-width="0.6"/>
<text x="346.90" y="268.62" font-size="6.3" text-anchor="end">40</text>
<line x1="349.40" y1="254.60" x2="350.90" y2="254.60" stroke="#555" stroke-width="0.6"/>
<text x="346.90" y="256.84" font-size="6.3" text-anchor="end">50</text>
<line x1="349.40" y1="242.82" x2="350.90" y2="242.82" stroke="#555" stroke-width="0.6"/>
<text x="346.90" y="245.06" font-size="6.3" text-anchor="end">60</text>
<line x1="349.40" y1="231.04" x2="350.90" y2="231.04" stroke="#555" stroke-width="0.6"/>
<text x="346.90" y="233.28" font-size="6.3" text-anchor="end">70</text>
<line x1="349.40" y1="219.26" x2="350.90" y2="219.26" stroke="#555" stroke-width="0.6"/>
<text x="346.90" y="221.50" font-size="6.3" text-anchor="end">80</text>
<line x1="349.40" y1="207.48" x2="350.90" y2="207.48" stroke="#555" stroke-width="0.6"/>
<text x="346.90" y="209.72" font-size="6.3" text-anchor="end">90</text>
<line x1="349.40" y1="195.70" x2="350.90" y2="195.70" stroke="#555" stroke-width="0.6"/>
<text x="346.90" y="197.94" font-size="6.3" text-anchor="end">100</text>
<line x1="354.20" y1="315.00" x2="354.20" y2="317.20" stroke="#555" stroke-width="0.6"/>
<text x="354.20" y="323.54" font-size="6.3" text-anchor="middle">3.21</text>
<line x1="376.40" y1="315.00" x2="376.40" y2="317.20" stroke="#555" stroke-width="0.6"/>
<text x="376.40" y="323.54" font-size="6.3" text-anchor="middle">3.2</text>
<text x="370.00" y="205.95" font-size="6.9" text-anchor="middle">Choline</text>
<text transform="translate(328.80,255.4) rotate(-90)" x="0" y="2.52" font-size="7.1" text-anchor="middle" fill="#333">O-PLS covariance proportion (%)</text>
<text x="368.60" y="334.52" font-size="7.1" text-anchor="middle" fill="#333">d<tspan dy="-2.2" font-size="4.6">1</tspan><tspan dy="2.2">H (ppm)</tspan></text>
<line x1="419.40" y1="313.50" x2="420.90" y2="313.50" stroke="#555" stroke-width="0.6"/>
<text x="416.60" y="315.74" font-size="6.3" text-anchor="end">0</text>
<line x1="419.40" y1="301.72" x2="420.90" y2="301.72" stroke="#555" stroke-width="0.6"/>
<text x="416.60" y="303.96" font-size="6.3" text-anchor="end">10</text>
<line x1="419.40" y1="289.94" x2="420.90" y2="289.94" stroke="#555" stroke-width="0.6"/>
<text x="416.60" y="292.18" font-size="6.3" text-anchor="end">20</text>
<line x1="419.40" y1="278.16" x2="420.90" y2="278.16" stroke="#555" stroke-width="0.6"/>
<text x="416.60" y="280.40" font-size="6.3" text-anchor="end">30</text>
<line x1="419.40" y1="266.38" x2="420.90" y2="266.38" stroke="#555" stroke-width="0.6"/>
<text x="416.60" y="268.62" font-size="6.3" text-anchor="end">40</text>
<line x1="419.40" y1="254.60" x2="420.90" y2="254.60" stroke="#555" stroke-width="0.6"/>
<text x="416.60" y="256.84" font-size="6.3" text-anchor="end">50</text>
<line x1="419.40" y1="242.82" x2="420.90" y2="242.82" stroke="#555" stroke-width="0.6"/>
<text x="416.60" y="245.06" font-size="6.3" text-anchor="end">60</text>
<line x1="419.40" y1="231.04" x2="420.90" y2="231.04" stroke="#555" stroke-width="0.6"/>
<text x="416.60" y="233.28" font-size="6.3" text-anchor="end">70</text>
<line x1="419.40" y1="219.26" x2="420.90" y2="219.26" stroke="#555" stroke-width="0.6"/>
<text x="416.60" y="221.50" font-size="6.3" text-anchor="end">80</text>
<line x1="419.40" y1="207.48" x2="420.90" y2="207.48" stroke="#555" stroke-width="0.6"/>
<text x="416.60" y="209.72" font-size="6.3" text-anchor="end">90</text>
<line x1="419.40" y1="195.70" x2="420.90" y2="195.70" stroke="#555" stroke-width="0.6"/>
<text x="416.60" y="197.94" font-size="6.3" text-anchor="end">100</text>
<line x1="433.00" y1="315.00" x2="433.00" y2="317.20" stroke="#555" stroke-width="0.6"/>
<text x="433.00" y="323.54" font-size="6.3" text-anchor="middle">2.9</text>
<line x1="464.20" y1="315.00" x2="464.20" y2="317.20" stroke="#555" stroke-width="0.6"/>
<text x="464.20" y="323.54" font-size="6.3" text-anchor="middle">2.85</text>
<text x="441.10" y="205.95" font-size="6.9" text-anchor="middle">TMA</text>
<text transform="translate(400.70,255.4) rotate(-90)" x="0" y="2.52" font-size="7.1" text-anchor="middle" fill="#333">O-PLS covariance proportion (%)</text>
<text x="441.10" y="334.52" font-size="7.1" text-anchor="middle" fill="#333">d<tspan dy="-2.2" font-size="4.6">1</tspan><tspan dy="2.2">H (ppm)</tspan></text>
<line x1="497.40" y1="313.50" x2="498.90" y2="313.50" stroke="#555" stroke-width="0.6"/>
<text x="493.60" y="315.74" font-size="6.3" text-anchor="end">0</text>
<line x1="497.40" y1="301.72" x2="498.90" y2="301.72" stroke="#555" stroke-width="0.6"/>
<text x="493.60" y="303.96" font-size="6.3" text-anchor="end">10</text>
<line x1="497.40" y1="289.94" x2="498.90" y2="289.94" stroke="#555" stroke-width="0.6"/>
<text x="493.60" y="292.18" font-size="6.3" text-anchor="end">20</text>
<line x1="497.40" y1="278.16" x2="498.90" y2="278.16" stroke="#555" stroke-width="0.6"/>
<text x="493.60" y="280.40" font-size="6.3" text-anchor="end">30</text>
<line x1="497.40" y1="266.38" x2="498.90" y2="266.38" stroke="#555" stroke-width="0.6"/>
<text x="493.60" y="268.62" font-size="6.3" text-anchor="end">40</text>
<line x1="497.40" y1="254.60" x2="498.90" y2="254.60" stroke="#555" stroke-width="0.6"/>
<text x="493.60" y="256.84" font-size="6.3" text-anchor="end">50</text>
<line x1="497.40" y1="242.82" x2="498.90" y2="242.82" stroke="#555" stroke-width="0.6"/>
<text x="493.60" y="245.06" font-size="6.3" text-anchor="end">60</text>
<line x1="497.40" y1="231.04" x2="498.90" y2="231.04" stroke="#555" stroke-width="0.6"/>
<text x="493.60" y="233.28" font-size="6.3" text-anchor="end">70</text>
<line x1="497.40" y1="219.26" x2="498.90" y2="219.26" stroke="#555" stroke-width="0.6"/>
<text x="493.60" y="221.50" font-size="6.3" text-anchor="end">80</text>
<line x1="497.40" y1="207.48" x2="498.90" y2="207.48" stroke="#555" stroke-width="0.6"/>
<text x="493.60" y="209.72" font-size="6.3" text-anchor="end">90</text>
<line x1="497.40" y1="195.70" x2="498.90" y2="195.70" stroke="#555" stroke-width="0.6"/>
<text x="493.60" y="197.94" font-size="6.3" text-anchor="end">100</text>
<line x1="497.60" y1="315.00" x2="497.60" y2="317.20" stroke="#555" stroke-width="0.6"/>
<text x="497.60" y="323.54" font-size="6.3" text-anchor="middle">3.28</text>
<line x1="527.90" y1="315.00" x2="527.90" y2="317.20" stroke="#555" stroke-width="0.6"/>
<text x="527.90" y="323.54" font-size="6.3" text-anchor="middle">3.275</text>
<text x="520.20" y="205.95" font-size="6.9" text-anchor="middle">TMAO</text>
<text transform="translate(480.20,255.4) rotate(-90)" x="0" y="2.52" font-size="7.1" text-anchor="middle" fill="#333">O-PLS covariance proportion (%)</text>
<text x="519.60" y="334.52" font-size="7.1" text-anchor="middle" fill="#333">d<tspan dy="-2.2" font-size="4.6">1</tspan><tspan dy="2.2">H (ppm)</tspan></text>
<path d="M350.20,313.60 C350.25,313.57 349.98,313.90 350.50,313.40 C351.02,312.90 352.53,311.68 353.30,310.60 C354.07,309.52 354.48,308.60 355.10,306.90 C355.72,305.20 356.38,302.70 357.00,300.40 C357.62,298.10 358.18,295.40 358.80,293.10 C359.42,290.80 360.08,288.30 360.70,286.60 C361.32,284.90 361.88,283.75 362.50,282.90 C363.12,282.05 363.47,281.97 364.40,281.50 C365.33,281.03 367.03,280.40 368.10,280.10 C369.17,279.80 369.88,279.92 370.80,279.70 C371.72,279.48 372.83,278.88 373.60,278.80 C374.37,278.72 374.78,278.75 375.40,279.20 C376.02,279.65 376.68,280.57 377.30,281.50 C377.92,282.43 378.57,283.33 379.10,284.80 C379.63,286.27 380.12,288.15 380.50,290.30 C380.88,292.45 381.08,295.40 381.40,297.70 C381.72,300.00 382.02,302.10 382.40,304.10 C382.78,306.10 383.17,308.32 383.70,309.70 C384.23,311.08 384.98,311.78 385.60,312.40 C386.22,313.02 387.07,313.20 387.40,313.40 C387.73,313.60 387.57,313.57 387.60,313.60 Z" fill="#7a7a7a"/>
<path d="M349.60,313.00 C350.50,313.02 352.93,313.12 355.00,313.10 C357.07,313.08 360.33,313.05 362.00,312.90 C363.67,312.75 364.08,312.40 365.00,312.20 C365.92,312.00 366.67,311.80 367.50,311.70 C368.33,311.60 369.17,311.57 370.00,311.60 C370.83,311.63 371.67,311.73 372.50,311.90 C373.33,312.07 374.08,312.42 375.00,312.60 C375.92,312.78 375.77,312.93 378.00,313.00 C380.23,313.07 386.67,313.00 388.40,313.00 L388.4,313.9 L349.6,313.9 Z" fill="#f28a30"/>
<path d="M419.60,313.90 L419.60,306.00 L420.30,303.30 L421.50,303.00 L422.50,306.00 L424.00,310.00 L426.00,312.00 L427.30,311.00 L429.00,287.60 L430.50,270.00 L431.60,261.30 L433.40,247.30 L434.30,246.40 L435.20,249.00 L435.80,250.50 L436.50,243.00 L437.30,232.00 L438.20,224.00 L439.20,219.00 L440.40,217.50 L441.80,218.50 L443.90,222.80 L446.50,235.00 L449.20,252.50 L450.90,270.00 L451.80,282.30 L452.50,283.50 L453.20,282.80 L453.90,282.30 L455.00,287.60 L455.60,298.00 L456.70,308.60 L457.30,313.90 Z" fill="#7a7a7a" stroke="#7a7a7a" stroke-width="0.3"/>
<polygon points="459.30,313.90 460.90,310.50 462.50,311.50 463.80,313.90" fill="#7a7a7a" stroke="none" stroke-width="0"/>
<path d="M419.60,313.90 L419.60,309.50 L420.30,308.60 L421.50,306.00 L422.60,303.00 L423.50,298.00 L424.60,292.80 L425.20,298.00 L425.90,305.00 L426.60,309.00 L427.30,312.00 L430.00,313.00 L432.50,312.00 L434.00,312.50 L436.00,310.00 L437.50,307.00 L438.60,305.00 L439.50,308.00 L440.50,312.00 L442.00,312.50 L444.80,309.50 L446.50,310.00 L448.00,310.50 L450.00,312.00 L452.00,312.80 L454.00,311.00 L455.30,308.60 L456.20,311.00 L457.00,313.00 L464.00,313.00 L464.00,313.90 Z" fill="#f28a30"/>
<path d="M497.60,313.60 C497.60,312.17 496.87,306.27 497.60,305.00 C498.33,303.73 500.60,305.83 502.00,306.00 C503.40,306.17 504.83,309.17 506.00,306.00 C507.17,302.83 507.87,294.00 509.00,287.00 C510.13,280.00 511.60,271.57 512.80,264.00 C514.00,256.43 515.07,247.43 516.20,241.60 C517.33,235.77 518.47,231.72 519.60,229.00 C520.73,226.28 521.68,225.13 523.00,225.30 C524.32,225.47 526.07,225.40 527.50,230.00 C528.93,234.60 530.47,245.32 531.60,252.90 C532.73,260.48 533.28,267.98 534.30,275.50 C535.32,283.02 536.57,293.42 537.70,298.00 C538.83,302.58 540.53,300.40 541.10,303.00 C541.67,305.60 541.10,311.83 541.10,313.60 Z" fill="#7a7a7a"/>
<path d="M497.60,304.90 C498.43,305.08 500.63,305.62 502.60,306.00 C504.57,306.38 507.13,307.77 509.40,307.20 C511.67,306.63 513.93,304.68 516.20,302.60 C518.47,300.52 520.93,296.97 523.00,294.70 C525.07,292.43 527.10,289.75 528.60,289.00 C530.10,288.25 530.67,288.70 532.00,290.20 C533.33,291.70 535.08,295.73 536.60,298.00 C538.12,300.27 540.35,302.83 541.10,303.80 L541.1,313.2 L497.6,313.2 Z" fill="#f28a30"/>
<rect x="349.4" y="195.6" width="39.40" height="119.40" fill="none" stroke="#555" stroke-width="0.7"/>
<rect x="419.4" y="195.6" width="44.80" height="119.40" fill="none" stroke="#555" stroke-width="0.7"/>
<rect x="497.4" y="195.6" width="43.80" height="119.40" fill="none" stroke="#555" stroke-width="0.7"/>
<text x="0.00" y="352.20" font-size="10.5" font-weight="bold" fill="#000">e</text>
<line x1="40.30" y1="354.00" x2="40.30" y2="446.60" stroke="#c4c4c4" stroke-width="0.8"/>
<line x1="40.30" y1="446.60" x2="178.20" y2="446.60" stroke="#c4c4c4" stroke-width="0.8"/>
<line x1="37.70" y1="446.60" x2="40.30" y2="446.60" stroke="#999" stroke-width="0.7"/>
<text x="35.00" y="448.87" font-size="6.4" text-anchor="end">0</text>
<line x1="37.70" y1="428.15" x2="40.30" y2="428.15" stroke="#999" stroke-width="0.7"/>
<text x="35.00" y="430.42" font-size="6.4" text-anchor="end">100</text>
<line x1="37.70" y1="409.70" x2="40.30" y2="409.70" stroke="#999" stroke-width="0.7"/>
<text x="35.00" y="411.97" font-size="6.4" text-anchor="end">200</text>
<line x1="37.70" y1="391.25" x2="40.30" y2="391.25" stroke="#999" stroke-width="0.7"/>
<text x="35.00" y="393.52" font-size="6.4" text-anchor="end">300</text>
<line x1="37.70" y1="372.80" x2="40.30" y2="372.80" stroke="#999" stroke-width="0.7"/>
<text x="35.00" y="375.07" font-size="6.4" text-anchor="end">400</text>
<line x1="37.70" y1="354.35" x2="40.30" y2="354.35" stroke="#999" stroke-width="0.7"/>
<text x="35.00" y="356.62" font-size="6.4" text-anchor="end">500</text>
<line x1="40.30" y1="446.60" x2="40.30" y2="448.60" stroke="#c4c4c4" stroke-width="0.8"/>
<text x="40.30" y="457.27" font-size="6.4" text-anchor="middle">0</text>
<line x1="74.70" y1="446.60" x2="74.70" y2="448.60" stroke="#c4c4c4" stroke-width="0.8"/>
<text x="74.70" y="457.27" font-size="6.4" text-anchor="middle">20</text>
<line x1="109.10" y1="446.60" x2="109.10" y2="448.60" stroke="#c4c4c4" stroke-width="0.8"/>
<text x="109.10" y="457.27" font-size="6.4" text-anchor="middle">40</text>
<line x1="143.50" y1="446.60" x2="143.50" y2="448.60" stroke="#c4c4c4" stroke-width="0.8"/>
<text x="143.50" y="457.27" font-size="6.4" text-anchor="middle">60</text>
<line x1="177.90" y1="446.60" x2="177.90" y2="448.60" stroke="#c4c4c4" stroke-width="0.8"/>
<text x="177.90" y="457.27" font-size="6.4" text-anchor="middle">80</text>
<text x="109.20" y="466.25" font-size="6.9" text-anchor="middle">Time (min)</text>
<text transform="translate(6.90,401.00) rotate(-90)" x="0" y="2.45" font-size="6.9" text-anchor="middle">Glucose concentration</text>
<text transform="translate(15.4,401) rotate(-90)" x="0" y="2.45" font-size="6.9" text-anchor="middle" fill="#333">(mg dl<tspan dy="-2.2" font-size="4.6">−1</tspan><tspan dy="2.2">)</tspan></text>
<polyline points="40.30,427.80 66.10,385.30 91.90,385.10 169.30,408.90" fill="none" stroke="#9a9a9a" stroke-width="0.7"/>
<polyline points="40.30,420.00 66.10,375.40 91.90,371.00 169.30,410.80" fill="none" stroke="#3461b8" stroke-width="0.9"/>
<polyline points="40.30,413.00 66.10,366.80 91.90,366.10 169.30,387.50" fill="none" stroke="#f5913a" stroke-width="0.9"/>
<line x1="66.10" y1="383.00" x2="66.10" y2="388.00" stroke="#666" stroke-width="0.6"/>
<line x1="64.50" y1="383.00" x2="67.70" y2="383.00" stroke="#666" stroke-width="0.6"/>
<line x1="64.50" y1="388.00" x2="67.70" y2="388.00" stroke="#666" stroke-width="0.6"/>
<line x1="91.90" y1="382.70" x2="91.90" y2="387.60" stroke="#666" stroke-width="0.6"/>
<line x1="90.30" y1="382.70" x2="93.50" y2="382.70" stroke="#666" stroke-width="0.6"/>
<line x1="90.30" y1="387.60" x2="93.50" y2="387.60" stroke="#666" stroke-width="0.6"/>
<line x1="169.30" y1="407.50" x2="169.30" y2="410.50" stroke="#666" stroke-width="0.6"/>
<line x1="167.70" y1="407.50" x2="170.90" y2="407.50" stroke="#666" stroke-width="0.6"/>
<line x1="167.70" y1="410.50" x2="170.90" y2="410.50" stroke="#666" stroke-width="0.6"/>
<line x1="66.10" y1="372.50" x2="66.10" y2="378.50" stroke="#666" stroke-width="0.6"/>
<line x1="64.50" y1="372.50" x2="67.70" y2="372.50" stroke="#666" stroke-width="0.6"/>
<line x1="64.50" y1="378.50" x2="67.70" y2="378.50" stroke="#666" stroke-width="0.6"/>
<line x1="91.90" y1="368.20" x2="91.90" y2="374.00" stroke="#666" stroke-width="0.6"/>
<line x1="90.30" y1="368.20" x2="93.50" y2="368.20" stroke="#666" stroke-width="0.6"/>
<line x1="90.30" y1="374.00" x2="93.50" y2="374.00" stroke="#666" stroke-width="0.6"/>
<line x1="169.30" y1="409.00" x2="169.30" y2="413.50" stroke="#666" stroke-width="0.6"/>
<line x1="167.70" y1="409.00" x2="170.90" y2="409.00" stroke="#666" stroke-width="0.6"/>
<line x1="167.70" y1="413.50" x2="170.90" y2="413.50" stroke="#666" stroke-width="0.6"/>
<line x1="66.10" y1="363.80" x2="66.10" y2="370.00" stroke="#666" stroke-width="0.6"/>
<line x1="64.50" y1="363.80" x2="67.70" y2="363.80" stroke="#666" stroke-width="0.6"/>
<line x1="64.50" y1="370.00" x2="67.70" y2="370.00" stroke="#666" stroke-width="0.6"/>
<line x1="91.90" y1="361.20" x2="91.90" y2="371.00" stroke="#666" stroke-width="0.6"/>
<line x1="90.30" y1="361.20" x2="93.50" y2="361.20" stroke="#666" stroke-width="0.6"/>
<line x1="90.30" y1="371.00" x2="93.50" y2="371.00" stroke="#666" stroke-width="0.6"/>
<line x1="169.30" y1="382.30" x2="169.30" y2="391.90" stroke="#666" stroke-width="0.6"/>
<line x1="167.70" y1="382.30" x2="170.90" y2="382.30" stroke="#666" stroke-width="0.6"/>
<line x1="167.70" y1="391.90" x2="170.90" y2="391.90" stroke="#666" stroke-width="0.6"/>
<polygon points="40.30,422.14 38.23,418.25 42.37,418.25" fill="#3461b8" stroke="none" stroke-width="0"/>
<polygon points="66.10,377.54 64.03,373.64 68.17,373.64" fill="#3461b8" stroke="none" stroke-width="0"/>
<polygon points="91.90,373.14 89.83,369.25 93.97,369.25" fill="#3461b8" stroke="none" stroke-width="0"/>
<polygon points="169.30,412.94 167.23,409.05 171.37,409.05" fill="#3461b8" stroke="none" stroke-width="0"/>
<polygon points="40.30,410.86 38.23,414.75 42.37,414.75" fill="#f5913a" stroke="none" stroke-width="0"/>
<polygon points="66.10,364.66 64.03,368.56 68.17,368.56" fill="#f5913a" stroke="none" stroke-width="0"/>
<polygon points="91.90,363.96 89.83,367.86 93.97,367.86" fill="#f5913a" stroke="none" stroke-width="0"/>
<polygon points="169.30,385.36 167.23,389.25 171.37,389.25" fill="#f5913a" stroke="none" stroke-width="0"/>
<rect x="38.25" y="425.75" width="4.10" height="4.10" fill="#6e6e6e" stroke="none" stroke-width="0"/>
<rect x="64.05" y="383.25" width="4.10" height="4.10" fill="#6e6e6e" stroke="none" stroke-width="0"/>
<rect x="89.85" y="383.05" width="4.10" height="4.10" fill="#6e6e6e" stroke="none" stroke-width="0"/>
<rect x="167.25" y="406.85" width="4.10" height="4.10" fill="#6e6e6e" stroke="none" stroke-width="0"/>
<text x="66.00" y="366.30" font-size="10" text-anchor="middle" fill="#333">*</text>
<text x="41.90" y="411.40" font-size="10" text-anchor="middle" fill="#333">*</text>
<text x="47.20" y="411.70" font-size="10" text-anchor="middle" fill="#333">*</text>
<text x="168.80" y="384.00" font-size="10" text-anchor="middle" fill="#333">****</text>
<text x="169.20" y="428.53" font-size="7.4" text-anchor="middle">$</text>
<text x="187.20" y="351.60" font-size="10.5" font-weight="bold" fill="#000">f</text>
<line x1="233.60" y1="357.40" x2="233.60" y2="446.40" stroke="#c4c4c4" stroke-width="0.8"/>
<line x1="233.60" y1="446.40" x2="291.80" y2="446.40" stroke="#c4c4c4" stroke-width="0.8"/>
<line x1="231.00" y1="446.20" x2="233.60" y2="446.20" stroke="#999" stroke-width="0.7"/>
<text x="228.40" y="448.61" font-size="6.8" text-anchor="end">0</text>
<line x1="231.00" y1="424.30" x2="233.60" y2="424.30" stroke="#999" stroke-width="0.7"/>
<text x="228.40" y="426.71" font-size="6.8" text-anchor="end">10,000</text>
<line x1="231.00" y1="402.40" x2="233.60" y2="402.40" stroke="#999" stroke-width="0.7"/>
<text x="228.40" y="404.81" font-size="6.8" text-anchor="end">20,000</text>
<line x1="231.00" y1="380.50" x2="233.60" y2="380.50" stroke="#999" stroke-width="0.7"/>
<text x="228.40" y="382.91" font-size="6.8" text-anchor="end">30,000</text>
<line x1="231.00" y1="358.60" x2="233.60" y2="358.60" stroke="#999" stroke-width="0.7"/>
<text x="228.40" y="361.01" font-size="6.8" text-anchor="end">40,000</text>
<text transform="translate(191.00,397.00) rotate(-90)" x="0" y="2.45" font-size="6.9" text-anchor="middle">Area under curve GTT</text>
<text transform="translate(199.5,397) rotate(-90)" x="0" y="2.45" font-size="6.9" text-anchor="middle" fill="#333">(mg dl<tspan dy="-2.2" font-size="4.6">−1</tspan><tspan dy="2.2"> min</tspan><tspan dy="-2.2" font-size="4.6">−1</tspan><tspan dy="2.2">)</tspan></text>
<rect x="236.77" y="392.07" width="3.85" height="3.85" fill="#6e6e6e" stroke="none" stroke-width="0"/>
<rect x="246.47" y="393.18" width="3.85" height="3.85" fill="#6e6e6e" stroke="none" stroke-width="0"/>
<rect x="240.38" y="395.68" width="3.85" height="3.85" fill="#6e6e6e" stroke="none" stroke-width="0"/>
<rect x="243.17" y="396.07" width="3.85" height="3.85" fill="#6e6e6e" stroke="none" stroke-width="0"/>
<rect x="237.07" y="397.57" width="3.85" height="3.85" fill="#6e6e6e" stroke="none" stroke-width="0"/>
<rect x="244.77" y="397.57" width="3.85" height="3.85" fill="#6e6e6e" stroke="none" stroke-width="0"/>
<rect x="240.97" y="399.57" width="3.85" height="3.85" fill="#6e6e6e" stroke="none" stroke-width="0"/>
<rect x="238.17" y="403.47" width="3.85" height="3.85" fill="#6e6e6e" stroke="none" stroke-width="0"/>
<rect x="242.07" y="403.47" width="3.85" height="3.85" fill="#6e6e6e" stroke="none" stroke-width="0"/>
<rect x="240.38" y="406.27" width="3.85" height="3.85" fill="#6e6e6e" stroke="none" stroke-width="0"/>
<rect x="243.17" y="405.07" width="3.85" height="3.85" fill="#6e6e6e" stroke="none" stroke-width="0"/>
<rect x="239.57" y="401.57" width="3.85" height="3.85" fill="#6e6e6e" stroke="none" stroke-width="0"/>
<line x1="237.00" y1="402.60" x2="250.00" y2="402.60" stroke="#c8c8c8" stroke-width="0.8"/>
<line x1="243.50" y1="400.80" x2="243.50" y2="404.40" stroke="#555" stroke-width="0.6"/>
<line x1="240.70" y1="400.80" x2="246.30" y2="400.80" stroke="#555" stroke-width="0.6"/>
<line x1="240.70" y1="404.40" x2="246.30" y2="404.40" stroke="#555" stroke-width="0.6"/>
<polygon points="262.20,363.58 260.16,367.43 264.24,367.43" fill="#f5913a" stroke="none" stroke-width="0"/>
<polygon points="265.00,371.68 262.96,375.53 267.04,375.53" fill="#f5913a" stroke="none" stroke-width="0"/>
<polygon points="259.50,374.98 257.46,378.83 261.54,378.83" fill="#f5913a" stroke="none" stroke-width="0"/>
<polygon points="259.70,381.48 257.66,385.33 261.74,385.33" fill="#f5913a" stroke="none" stroke-width="0"/>
<polygon points="264.50,382.98 262.46,386.83 266.54,386.83" fill="#f5913a" stroke="none" stroke-width="0"/>
<polygon points="263.70,386.08 261.66,389.93 265.74,389.93" fill="#f5913a" stroke="none" stroke-width="0"/>
<polygon points="258.40,391.08 256.36,394.93 260.44,394.93" fill="#f5913a" stroke="none" stroke-width="0"/>
<polygon points="262.20,394.38 260.16,398.23 264.24,398.23" fill="#f5913a" stroke="none" stroke-width="0"/>
<polygon points="266.10,393.88 264.06,397.73 268.14,397.73" fill="#f5913a" stroke="none" stroke-width="0"/>
<polygon points="261.10,382.78 259.06,386.63 263.14,386.63" fill="#f5913a" stroke="none" stroke-width="0"/>
<line x1="256.10" y1="384.30" x2="269.10" y2="384.30" stroke="#f8c49a" stroke-width="0.8"/>
<line x1="262.60" y1="381.20" x2="262.60" y2="387.10" stroke="#555" stroke-width="0.6"/>
<line x1="259.80" y1="381.20" x2="265.40" y2="381.20" stroke="#555" stroke-width="0.6"/>
<line x1="259.80" y1="387.10" x2="265.40" y2="387.10" stroke="#555" stroke-width="0.6"/>
<polygon points="281.80,388.72 279.76,384.87 283.84,384.87" fill="#3461b8" stroke="none" stroke-width="0"/>
<polygon points="278.10,393.12 276.06,389.27 280.14,389.27" fill="#3461b8" stroke="none" stroke-width="0"/>
<polygon points="285.50,392.52 283.46,388.67 287.54,388.67" fill="#3461b8" stroke="none" stroke-width="0"/>
<polygon points="277.70,397.02 275.66,393.17 279.74,393.17" fill="#3461b8" stroke="none" stroke-width="0"/>
<polygon points="280.50,397.52 278.46,393.67 282.54,393.67" fill="#3461b8" stroke="none" stroke-width="0"/>
<polygon points="283.80,397.02 281.76,393.17 285.84,393.17" fill="#3461b8" stroke="none" stroke-width="0"/>
<polygon points="286.00,399.22 283.96,395.37 288.04,395.37" fill="#3461b8" stroke="none" stroke-width="0"/>
<polygon points="281.80,399.72 279.76,395.87 283.84,395.87" fill="#3461b8" stroke="none" stroke-width="0"/>
<polygon points="281.60,402.52 279.56,398.67 283.64,398.67" fill="#3461b8" stroke="none" stroke-width="0"/>
<line x1="275.30" y1="394.30" x2="288.30" y2="394.30" stroke="#9ab0dc" stroke-width="0.8"/>
<line x1="281.80" y1="392.60" x2="281.80" y2="396.00" stroke="#555" stroke-width="0.6"/>
<line x1="279.00" y1="392.60" x2="284.60" y2="392.60" stroke="#555" stroke-width="0.6"/>
<line x1="279.00" y1="396.00" x2="284.60" y2="396.00" stroke="#555" stroke-width="0.6"/>
<text x="243.10" y="389.28" font-size="6.6" text-anchor="middle">a</text>
<text x="262.60" y="359.08" font-size="6.6" text-anchor="middle">b</text>
<text x="281.80" y="376.18" font-size="6.6" text-anchor="middle">a</text>
<text x="313.80" y="349.40" font-size="10.5" font-weight="bold" fill="#000">g</text>
<line x1="339.90" y1="348.60" x2="339.90" y2="447.00" stroke="#c4c4c4" stroke-width="0.8"/>
<line x1="339.90" y1="447.00" x2="407.20" y2="447.00" stroke="#c4c4c4" stroke-width="0.8"/>
<line x1="337.30" y1="434.40" x2="339.90" y2="434.40" stroke="#999" stroke-width="0.7"/>
<text x="334.30" y="436.67" font-size="6.4" text-anchor="end">20</text>
<line x1="337.30" y1="409.40" x2="339.90" y2="409.40" stroke="#999" stroke-width="0.7"/>
<text x="334.30" y="411.67" font-size="6.4" text-anchor="end">30</text>
<line x1="337.30" y1="384.40" x2="339.90" y2="384.40" stroke="#999" stroke-width="0.7"/>
<text x="334.30" y="386.67" font-size="6.4" text-anchor="end">40</text>
<line x1="337.30" y1="359.40" x2="339.90" y2="359.40" stroke="#999" stroke-width="0.7"/>
<text x="334.30" y="361.67" font-size="6.4" text-anchor="end">50</text>
<text transform="translate(317.60,396.20) rotate(-90)" x="0" y="2.45" font-size="6.9" text-anchor="middle">Body weight (g)</text>
<rect x="345.88" y="378.77" width="3.85" height="3.85" fill="#6e6e6e" stroke="none" stroke-width="0"/>
<rect x="354.88" y="381.97" width="3.85" height="3.85" fill="#6e6e6e" stroke="none" stroke-width="0"/>
<rect x="351.68" y="386.88" width="3.85" height="3.85" fill="#6e6e6e" stroke="none" stroke-width="0"/>
<rect x="345.88" y="389.18" width="3.85" height="3.85" fill="#6e6e6e" stroke="none" stroke-width="0"/>
<rect x="353.27" y="393.97" width="3.85" height="3.85" fill="#6e6e6e" stroke="none" stroke-width="0"/>
<rect x="341.97" y="396.47" width="3.85" height="3.85" fill="#6e6e6e" stroke="none" stroke-width="0"/>
<rect x="349.07" y="396.47" width="3.85" height="3.85" fill="#6e6e6e" stroke="none" stroke-width="0"/>
<rect x="344.57" y="400.77" width="3.85" height="3.85" fill="#6e6e6e" stroke="none" stroke-width="0"/>
<rect x="353.27" y="400.77" width="3.85" height="3.85" fill="#6e6e6e" stroke="none" stroke-width="0"/>
<rect x="349.07" y="406.47" width="3.85" height="3.85" fill="#6e6e6e" stroke="none" stroke-width="0"/>
<line x1="344.20" y1="395.90" x2="357.20" y2="395.90" stroke="#c8c8c8" stroke-width="0.8"/>
<line x1="350.70" y1="392.00" x2="350.70" y2="399.60" stroke="#555" stroke-width="0.6"/>
<line x1="347.90" y1="392.00" x2="353.50" y2="392.00" stroke="#555" stroke-width="0.6"/>
<line x1="347.90" y1="399.60" x2="353.50" y2="399.60" stroke="#555" stroke-width="0.6"/>
<polygon points="376.20,361.88 374.16,365.73 378.24,365.73" fill="#f5913a" stroke="none" stroke-width="0"/>
<polygon points="366.90,364.68 364.86,368.53 368.94,368.53" fill="#f5913a" stroke="none" stroke-width="0"/>
<polygon points="377.50,367.28 375.46,371.13 379.54,371.13" fill="#f5913a" stroke="none" stroke-width="0"/>
<polygon points="369.10,368.58 367.06,372.43 371.14,372.43" fill="#f5913a" stroke="none" stroke-width="0"/>
<polygon points="371.70,370.48 369.66,374.33 373.74,374.33" fill="#f5913a" stroke="none" stroke-width="0"/>
<polygon points="374.90,370.48 372.86,374.33 376.94,374.33" fill="#f5913a" stroke="none" stroke-width="0"/>
<polygon points="378.80,369.18 376.76,373.03 380.84,373.03" fill="#f5913a" stroke="none" stroke-width="0"/>
<polygon points="372.30,372.38 370.26,376.23 374.34,376.23" fill="#f5913a" stroke="none" stroke-width="0"/>
<polygon points="370.00,371.38 367.96,375.23 372.04,375.23" fill="#f5913a" stroke="none" stroke-width="0"/>
<polygon points="373.20,384.68 371.16,388.53 375.24,388.53" fill="#f5913a" stroke="none" stroke-width="0"/>
<line x1="366.30" y1="370.00" x2="379.30" y2="370.00" stroke="#f8c49a" stroke-width="0.8"/>
<line x1="372.80" y1="368.60" x2="372.80" y2="371.60" stroke="#555" stroke-width="0.6"/>
<line x1="370.00" y1="368.60" x2="375.60" y2="368.60" stroke="#555" stroke-width="0.6"/>
<line x1="370.00" y1="371.60" x2="375.60" y2="371.60" stroke="#555" stroke-width="0.6"/>
<polygon points="391.00,397.12 388.96,393.27 393.04,393.27" fill="#3461b8" stroke="none" stroke-width="0"/>
<polygon points="399.70,397.62 397.66,393.77 401.74,393.77" fill="#3461b8" stroke="none" stroke-width="0"/>
<polygon points="395.30,402.52 393.26,398.67 397.34,398.67" fill="#3461b8" stroke="none" stroke-width="0"/>
<polygon points="391.00,407.02 388.96,403.17 393.04,403.17" fill="#3461b8" stroke="none" stroke-width="0"/>
<polygon points="396.80,407.02 394.76,403.17 398.84,403.17" fill="#3461b8" stroke="none" stroke-width="0"/>
<polygon points="399.70,405.72 397.66,401.87 401.74,401.87" fill="#3461b8" stroke="none" stroke-width="0"/>
<polygon points="393.60,409.62 391.56,405.77 395.64,405.77" fill="#3461b8" stroke="none" stroke-width="0"/>
<polygon points="398.40,412.22 396.36,408.37 400.44,408.37" fill="#3461b8" stroke="none" stroke-width="0"/>
<polygon points="392.30,416.72 390.26,412.87 394.34,412.87" fill="#3461b8" stroke="none" stroke-width="0"/>
<polygon points="395.00,408.62 392.96,404.77 397.04,404.77" fill="#3461b8" stroke="none" stroke-width="0"/>
<line x1="389.00" y1="405.60" x2="402.00" y2="405.60" stroke="#9ab0dc" stroke-width="0.8"/>
<line x1="395.50" y1="403.90" x2="395.50" y2="407.30" stroke="#555" stroke-width="0.6"/>
<line x1="392.70" y1="403.90" x2="398.30" y2="403.90" stroke="#555" stroke-width="0.6"/>
<line x1="392.70" y1="407.30" x2="398.30" y2="407.30" stroke="#555" stroke-width="0.6"/>
<text x="350.70" y="375.88" font-size="6.6" text-anchor="middle">a</text>
<text x="372.80" y="358.98" font-size="6.6" text-anchor="middle">b</text>
<text x="395.50" y="386.48" font-size="6.6" text-anchor="middle">a</text>
<text x="426.00" y="348.60" font-size="10.5" font-weight="bold" fill="#000">h</text>
<line x1="455.80" y1="351.00" x2="455.80" y2="444.30" stroke="#c4c4c4" stroke-width="0.8"/>
<line x1="455.80" y1="444.30" x2="519.40" y2="444.30" stroke="#c4c4c4" stroke-width="0.8"/>
<line x1="453.20" y1="444.30" x2="455.80" y2="444.30" stroke="#999" stroke-width="0.7"/>
<text x="450.60" y="446.50" font-size="6.2" text-anchor="end">0</text>
<line x1="453.20" y1="425.86" x2="455.80" y2="425.86" stroke="#999" stroke-width="0.7"/>
<text x="450.60" y="428.06" font-size="6.2" text-anchor="end">200</text>
<line x1="453.20" y1="407.42" x2="455.80" y2="407.42" stroke="#999" stroke-width="0.7"/>
<text x="450.60" y="409.62" font-size="6.2" text-anchor="end">400</text>
<line x1="453.20" y1="388.98" x2="455.80" y2="388.98" stroke="#999" stroke-width="0.7"/>
<text x="450.60" y="391.18" font-size="6.2" text-anchor="end">600</text>
<line x1="453.20" y1="370.54" x2="455.80" y2="370.54" stroke="#999" stroke-width="0.7"/>
<text x="450.60" y="372.74" font-size="6.2" text-anchor="end">800</text>
<line x1="453.20" y1="352.10" x2="455.80" y2="352.10" stroke="#999" stroke-width="0.7"/>
<text x="450.60" y="354.30" font-size="6.2" text-anchor="end">1,000</text>
<text transform="translate(429.6,394) rotate(-90)" x="0" y="2.45" font-size="6.9" text-anchor="middle" fill="#333">IL-6 (pg ml<tspan dy="-2.2" font-size="4.6">−1</tspan><tspan dy="2.2">)</tspan></text>
<rect x="460.88" y="432.97" width="3.85" height="3.85" fill="#6e6e6e" stroke="none" stroke-width="0"/>
<rect x="469.18" y="432.97" width="3.85" height="3.85" fill="#6e6e6e" stroke="none" stroke-width="0"/>
<rect x="465.38" y="435.57" width="3.85" height="3.85" fill="#6e6e6e" stroke="none" stroke-width="0"/>
<rect x="461.57" y="437.57" width="3.85" height="3.85" fill="#6e6e6e" stroke="none" stroke-width="0"/>
<rect x="465.38" y="438.57" width="3.85" height="3.85" fill="#6e6e6e" stroke="none" stroke-width="0"/>
<rect x="469.07" y="437.57" width="3.85" height="3.85" fill="#6e6e6e" stroke="none" stroke-width="0"/>
<rect x="463.57" y="440.07" width="3.85" height="3.85" fill="#6e6e6e" stroke="none" stroke-width="0"/>
<rect x="467.57" y="440.38" width="3.85" height="3.85" fill="#6e6e6e" stroke="none" stroke-width="0"/>
<rect x="465.38" y="441.27" width="3.85" height="3.85" fill="#6e6e6e" stroke="none" stroke-width="0"/>
<line x1="461.10" y1="440.00" x2="474.10" y2="440.00" stroke="#c8c8c8" stroke-width="0.8"/>
<line x1="467.60" y1="438.50" x2="467.60" y2="441.60" stroke="#555" stroke-width="0.6"/>
<line x1="464.80" y1="438.50" x2="470.40" y2="438.50" stroke="#555" stroke-width="0.6"/>
<line x1="464.80" y1="441.60" x2="470.40" y2="441.60" stroke="#555" stroke-width="0.6"/>
<polygon points="487.20,369.12 485.16,365.27 489.24,365.27" fill="#f5913a" stroke="none" stroke-width="0"/>
<polygon points="487.20,385.12 485.16,381.27 489.24,381.27" fill="#f5913a" stroke="none" stroke-width="0"/>
<polygon points="490.50,424.12 488.46,420.27 492.54,420.27" fill="#f5913a" stroke="none" stroke-width="0"/>
<polygon points="485.00,427.72 482.96,423.87 487.04,423.87" fill="#f5913a" stroke="none" stroke-width="0"/>
<polygon points="488.00,435.12 485.96,431.27 490.04,431.27" fill="#f5913a" stroke="none" stroke-width="0"/>
<polygon points="483.70,437.62 481.66,433.77 485.74,433.77" fill="#f5913a" stroke="none" stroke-width="0"/>
<polygon points="491.80,438.02 489.76,434.17 493.84,434.17" fill="#f5913a" stroke="none" stroke-width="0"/>
<polygon points="488.00,441.52 485.96,437.67 490.04,437.67" fill="#f5913a" stroke="none" stroke-width="0"/>
<line x1="480.30" y1="418.30" x2="494.30" y2="418.30" stroke="#f8c49a" stroke-width="0.8"/>
<line x1="487.30" y1="408.40" x2="487.30" y2="427.50" stroke="#555" stroke-width="0.6"/>
<line x1="484.50" y1="408.40" x2="490.10" y2="408.40" stroke="#555" stroke-width="0.6"/>
<line x1="484.50" y1="427.50" x2="490.10" y2="427.50" stroke="#555" stroke-width="0.6"/>
<polygon points="505.40,432.48 503.36,436.33 507.44,436.33" fill="#3461b8" stroke="none" stroke-width="0"/>
<polygon points="513.80,435.38 511.76,439.23 515.84,439.23" fill="#3461b8" stroke="none" stroke-width="0"/>
<polygon points="504.00,437.88 501.96,441.73 506.04,441.73" fill="#3461b8" stroke="none" stroke-width="0"/>
<polygon points="507.50,438.88 505.46,442.73 509.54,442.73" fill="#3461b8" stroke="none" stroke-width="0"/>
<polygon points="510.50,438.38 508.46,442.23 512.54,442.23" fill="#3461b8" stroke="none" stroke-width="0"/>
<polygon points="513.00,439.38 510.96,443.23 515.04,443.23" fill="#3461b8" stroke="none" stroke-width="0"/>
<polygon points="506.00,440.88 503.96,444.73 508.04,444.73" fill="#3461b8" stroke="none" stroke-width="0"/>
<polygon points="509.00,441.08 506.96,444.93 511.04,444.93" fill="#3461b8" stroke="none" stroke-width="0"/>
<polygon points="503.00,440.38 500.96,444.23 505.04,444.23" fill="#3461b8" stroke="none" stroke-width="0"/>
<line x1="501.50" y1="440.20" x2="514.50" y2="440.20" stroke="#9ab0dc" stroke-width="0.8"/>
<line x1="508.00" y1="439.00" x2="508.00" y2="441.50" stroke="#555" stroke-width="0.6"/>
<line x1="505.20" y1="439.00" x2="510.80" y2="439.00" stroke="#555" stroke-width="0.6"/>
<line x1="505.20" y1="441.50" x2="510.80" y2="441.50" stroke="#555" stroke-width="0.6"/>
<text x="467.40" y="420.88" font-size="6.6" text-anchor="middle">a</text>
<text x="487.20" y="357.78" font-size="6.6" text-anchor="middle">b</text>
<text x="507.50" y="421.18" font-size="6.6" text-anchor="middle">a</text>
<text x="0.00" y="480.80" font-size="10.5" font-weight="bold" fill="#000">i</text>
<line x1="41.30" y1="481.20" x2="41.30" y2="574.80" stroke="#c4c4c4" stroke-width="0.8"/>
<line x1="41.30" y1="574.80" x2="103.20" y2="574.80" stroke="#c4c4c4" stroke-width="0.8"/>
<line x1="38.70" y1="574.80" x2="41.30" y2="574.80" stroke="#999" stroke-width="0.7"/>
<text x="35.80" y="577.07" font-size="6.4" text-anchor="end">0</text>
<line x1="38.70" y1="556.14" x2="41.30" y2="556.14" stroke="#999" stroke-width="0.7"/>
<text x="35.80" y="558.41" font-size="6.4" text-anchor="end">10</text>
<line x1="38.70" y1="537.48" x2="41.30" y2="537.48" stroke="#999" stroke-width="0.7"/>
<text x="35.80" y="539.75" font-size="6.4" text-anchor="end">20</text>
<line x1="38.70" y1="518.82" x2="41.30" y2="518.82" stroke="#999" stroke-width="0.7"/>
<text x="35.80" y="521.09" font-size="6.4" text-anchor="end">30</text>
<line x1="38.70" y1="500.16" x2="41.30" y2="500.16" stroke="#999" stroke-width="0.7"/>
<text x="35.80" y="502.43" font-size="6.4" text-anchor="end">40</text>
<line x1="38.70" y1="481.50" x2="41.30" y2="481.50" stroke="#999" stroke-width="0.7"/>
<text x="35.80" y="483.77" font-size="6.4" text-anchor="end">50</text>
<text transform="translate(18.7,528.8) rotate(-90)" x="0" y="2.45" font-size="6.9" text-anchor="middle" fill="#333">TNF (pg ml<tspan dy="-2.2" font-size="4.6">−1</tspan><tspan dy="2.2">)</tspan></text>
<rect x="49.28" y="540.18" width="3.85" height="3.85" fill="#6e6e6e" stroke="none" stroke-width="0"/>
<rect x="53.18" y="545.38" width="3.85" height="3.85" fill="#6e6e6e" stroke="none" stroke-width="0"/>
<rect x="44.88" y="548.28" width="3.85" height="3.85" fill="#6e6e6e" stroke="none" stroke-width="0"/>
<rect x="48.58" y="549.48" width="3.85" height="3.85" fill="#6e6e6e" stroke="none" stroke-width="0"/>
<rect x="51.08" y="548.88" width="3.85" height="3.85" fill="#6e6e6e" stroke="none" stroke-width="0"/>
<rect x="46.68" y="549.08" width="3.85" height="3.85" fill="#6e6e6e" stroke="none" stroke-width="0"/>
<rect x="46.18" y="558.18" width="3.85" height="3.85" fill="#6e6e6e" stroke="none" stroke-width="0"/>
<rect x="51.68" y="557.78" width="3.85" height="3.85" fill="#6e6e6e" stroke="none" stroke-width="0"/>
<rect x="49.88" y="559.38" width="3.85" height="3.85" fill="#6e6e6e" stroke="none" stroke-width="0"/>
<rect x="47.38" y="562.88" width="3.85" height="3.85" fill="#6e6e6e" stroke="none" stroke-width="0"/>
<line x1="44.40" y1="553.90" x2="57.40" y2="553.90" stroke="#c8c8c8" stroke-width="0.8"/>
<line x1="50.90" y1="551.40" x2="50.90" y2="556.40" stroke="#555" stroke-width="0.6"/>
<line x1="48.10" y1="551.40" x2="53.70" y2="551.40" stroke="#555" stroke-width="0.6"/>
<line x1="48.10" y1="556.40" x2="53.70" y2="556.40" stroke="#555" stroke-width="0.6"/>
<polygon points="71.60,505.52 69.56,501.67 73.64,501.67" fill="#f5913a" stroke="none" stroke-width="0"/>
<polygon points="71.60,521.02 69.56,517.17 73.64,517.17" fill="#f5913a" stroke="none" stroke-width="0"/>
<polygon points="74.70,534.92 72.66,531.07 76.74,531.07" fill="#f5913a" stroke="none" stroke-width="0"/>
<polygon points="69.20,537.42 67.16,533.57 71.24,533.57" fill="#f5913a" stroke="none" stroke-width="0"/>
<polygon points="72.90,537.42 70.86,533.57 74.94,533.57" fill="#f5913a" stroke="none" stroke-width="0"/>
<polygon points="71.60,544.22 69.56,540.37 73.64,540.37" fill="#f5913a" stroke="none" stroke-width="0"/>
<polygon points="74.70,549.22 72.66,545.37 76.74,545.37" fill="#f5913a" stroke="none" stroke-width="0"/>
<polygon points="68.80,551.72 66.76,547.87 70.84,547.87" fill="#f5913a" stroke="none" stroke-width="0"/>
<line x1="65.10" y1="533.40" x2="78.10" y2="533.40" stroke="#f8c49a" stroke-width="0.8"/>
<line x1="71.60" y1="529.10" x2="71.60" y2="538.40" stroke="#555" stroke-width="0.6"/>
<line x1="68.80" y1="529.10" x2="74.40" y2="529.10" stroke="#555" stroke-width="0.6"/>
<line x1="68.80" y1="538.40" x2="74.40" y2="538.40" stroke="#555" stroke-width="0.6"/>
<polygon points="89.40,533.78 87.36,537.63 91.44,537.63" fill="#3461b8" stroke="none" stroke-width="0"/>
<polygon points="97.70,534.78 95.66,538.63 99.74,538.63" fill="#3461b8" stroke="none" stroke-width="0"/>
<polygon points="89.40,539.38 87.36,543.23 91.44,543.23" fill="#3461b8" stroke="none" stroke-width="0"/>
<polygon points="94.80,539.38 92.76,543.23 96.84,543.23" fill="#3461b8" stroke="none" stroke-width="0"/>
<polygon points="91.10,543.48 89.06,547.33 93.14,547.33" fill="#3461b8" stroke="none" stroke-width="0"/>
<polygon points="94.00,543.68 91.96,547.53 96.04,547.53" fill="#3461b8" stroke="none" stroke-width="0"/>
<polygon points="89.40,550.18 87.36,554.03 91.44,554.03" fill="#3461b8" stroke="none" stroke-width="0"/>
<polygon points="98.10,551.38 96.06,555.23 100.14,555.23" fill="#3461b8" stroke="none" stroke-width="0"/>
<polygon points="94.60,553.68 92.56,557.53 96.64,557.53" fill="#3461b8" stroke="none" stroke-width="0"/>
<polygon points="89.40,557.08 87.36,560.93 91.44,560.93" fill="#3461b8" stroke="none" stroke-width="0"/>
<line x1="85.80" y1="546.50" x2="98.80" y2="546.50" stroke="#9ab0dc" stroke-width="0.8"/>
<line x1="92.30" y1="543.50" x2="92.30" y2="549.60" stroke="#555" stroke-width="0.6"/>
<line x1="89.50" y1="543.50" x2="95.10" y2="543.50" stroke="#555" stroke-width="0.6"/>
<line x1="89.50" y1="549.60" x2="95.10" y2="549.60" stroke="#555" stroke-width="0.6"/>
<text x="50.90" y="534.58" font-size="6.6" text-anchor="middle">a</text>
<text x="71.50" y="496.38" font-size="6.6" text-anchor="middle">b</text>
<text x="92.30" y="521.48" font-size="6.6" text-anchor="middle">a</text>
<text x="125.30" y="482.20" font-size="10.5" font-weight="bold" fill="#000">j</text>
<line x1="152.50" y1="482.00" x2="152.50" y2="574.70" stroke="#c4c4c4" stroke-width="0.8"/>
<line x1="152.50" y1="574.70" x2="215.00" y2="574.70" stroke="#c4c4c4" stroke-width="0.8"/>
<line x1="149.90" y1="574.70" x2="152.50" y2="574.70" stroke="#999" stroke-width="0.7"/>
<text x="147.30" y="576.97" font-size="6.4" text-anchor="end">0</text>
<line x1="149.90" y1="556.20" x2="152.50" y2="556.20" stroke="#999" stroke-width="0.7"/>
<text x="147.30" y="558.47" font-size="6.4" text-anchor="end">0.2</text>
<line x1="149.90" y1="537.70" x2="152.50" y2="537.70" stroke="#999" stroke-width="0.7"/>
<text x="147.30" y="539.97" font-size="6.4" text-anchor="end">0.4</text>
<line x1="149.90" y1="519.20" x2="152.50" y2="519.20" stroke="#999" stroke-width="0.7"/>
<text x="147.30" y="521.47" font-size="6.4" text-anchor="end">0.6</text>
<line x1="149.90" y1="500.70" x2="152.50" y2="500.70" stroke="#999" stroke-width="0.7"/>
<text x="147.30" y="502.97" font-size="6.4" text-anchor="end">0.8</text>
<line x1="149.90" y1="482.20" x2="152.50" y2="482.20" stroke="#999" stroke-width="0.7"/>
<text x="147.30" y="484.47" font-size="6.4" text-anchor="end">1.0</text>
<text transform="translate(130,528.7) rotate(-90)" x="0" y="2.45" font-size="6.9" text-anchor="middle" fill="#333">IL-1β (pg ml<tspan dy="-2.2" font-size="4.6">−1</tspan><tspan dy="2.2">)</tspan></text>
<rect x="160.77" y="534.08" width="3.85" height="3.85" fill="#6e6e6e" stroke="none" stroke-width="0"/>
<rect x="155.27" y="544.88" width="3.85" height="3.85" fill="#6e6e6e" stroke="none" stroke-width="0"/>
<rect x="164.07" y="542.68" width="3.85" height="3.85" fill="#6e6e6e" stroke="none" stroke-width="0"/>
<rect x="157.88" y="548.88" width="3.85" height="3.85" fill="#6e6e6e" stroke="none" stroke-width="0"/>
<rect x="160.57" y="551.08" width="3.85" height="3.85" fill="#6e6e6e" stroke="none" stroke-width="0"/>
<rect x="163.47" y="551.08" width="3.85" height="3.85" fill="#6e6e6e" stroke="none" stroke-width="0"/>
<rect x="159.07" y="553.28" width="3.85" height="3.85" fill="#6e6e6e" stroke="none" stroke-width="0"/>
<rect x="163.88" y="555.48" width="3.85" height="3.85" fill="#6e6e6e" stroke="none" stroke-width="0"/>
<rect x="157.88" y="560.58" width="3.85" height="3.85" fill="#6e6e6e" stroke="none" stroke-width="0"/>
<line x1="155.60" y1="551.50" x2="168.60" y2="551.50" stroke="#c8c8c8" stroke-width="0.8"/>
<line x1="162.10" y1="549.00" x2="162.10" y2="554.00" stroke="#555" stroke-width="0.6"/>
<line x1="159.30" y1="549.00" x2="164.90" y2="549.00" stroke="#555" stroke-width="0.6"/>
<line x1="159.30" y1="554.00" x2="164.90" y2="554.00" stroke="#555" stroke-width="0.6"/>
<polygon points="180.20,504.22 178.16,500.37 182.24,500.37" fill="#f5913a" stroke="none" stroke-width="0"/>
<polygon points="185.80,509.32 183.76,505.47 187.84,505.47" fill="#f5913a" stroke="none" stroke-width="0"/>
<polygon points="180.20,518.62 178.16,514.77 182.24,514.77" fill="#f5913a" stroke="none" stroke-width="0"/>
<polygon points="185.80,517.02 183.76,513.17 187.84,513.17" fill="#f5913a" stroke="none" stroke-width="0"/>
<polygon points="183.50,530.12 181.46,526.27 185.54,526.27" fill="#f5913a" stroke="none" stroke-width="0"/>
<polygon points="183.50,545.22 181.46,541.37 185.54,541.37" fill="#f5913a" stroke="none" stroke-width="0"/>
<polygon points="183.50,554.52 181.46,550.67 185.54,550.67" fill="#f5913a" stroke="none" stroke-width="0"/>
<polygon points="183.50,561.82 181.46,557.97 185.54,557.97" fill="#f5913a" stroke="none" stroke-width="0"/>
<line x1="177.00" y1="528.20" x2="190.00" y2="528.20" stroke="#f8c49a" stroke-width="0.8"/>
<line x1="183.50" y1="520.50" x2="183.50" y2="536.00" stroke="#555" stroke-width="0.6"/>
<line x1="180.70" y1="520.50" x2="186.30" y2="520.50" stroke="#555" stroke-width="0.6"/>
<line x1="180.70" y1="536.00" x2="186.30" y2="536.00" stroke="#555" stroke-width="0.6"/>
<polygon points="203.70,518.78 201.66,522.63 205.74,522.63" fill="#3461b8" stroke="none" stroke-width="0"/>
<polygon points="200.80,530.58 198.76,534.43 202.84,534.43" fill="#3461b8" stroke="none" stroke-width="0"/>
<polygon points="206.80,530.58 204.76,534.43 208.84,534.43" fill="#3461b8" stroke="none" stroke-width="0"/>
<polygon points="203.70,538.68 201.66,542.53 205.74,542.53" fill="#3461b8" stroke="none" stroke-width="0"/>
<polygon points="206.80,540.98 204.76,544.83 208.84,544.83" fill="#3461b8" stroke="none" stroke-width="0"/>
<polygon points="199.70,545.38 197.66,549.23 201.74,549.23" fill="#3461b8" stroke="none" stroke-width="0"/>
<polygon points="203.70,545.38 201.66,549.23 205.74,549.23" fill="#3461b8" stroke="none" stroke-width="0"/>
<polygon points="208.10,549.78 206.06,553.63 210.14,553.63" fill="#3461b8" stroke="none" stroke-width="0"/>
<polygon points="203.70,554.88 201.66,558.73 205.74,558.73" fill="#3461b8" stroke="none" stroke-width="0"/>
<polygon points="203.70,566.38 201.66,570.23 205.74,570.23" fill="#3461b8" stroke="none" stroke-width="0"/>
<line x1="197.20" y1="544.80" x2="210.20" y2="544.80" stroke="#9ab0dc" stroke-width="0.8"/>
<line x1="203.70" y1="540.40" x2="203.70" y2="549.20" stroke="#555" stroke-width="0.6"/>
<line x1="200.90" y1="540.40" x2="206.50" y2="540.40" stroke="#555" stroke-width="0.6"/>
<line x1="200.90" y1="549.20" x2="206.50" y2="549.20" stroke="#555" stroke-width="0.6"/>
<text x="162.10" y="529.78" font-size="6.6" text-anchor="middle">a</text>
<text x="183.50" y="492.78" font-size="6.6" text-anchor="middle">b</text>
<text x="203.70" y="515.58" font-size="6.6" text-anchor="middle">a,b</text>
<text x="226.40" y="482.50" font-size="10.5" font-weight="bold" fill="#000">k</text>
<line x1="246.00" y1="475.60" x2="246.00" y2="574.30" stroke="#c4c4c4" stroke-width="0.9"/>
<line x1="246.00" y1="574.30" x2="377.80" y2="574.30" stroke="#c4c4c4" stroke-width="0.9"/>
<line x1="244.60" y1="574.00" x2="247.20" y2="574.00" stroke="#888" stroke-width="0.6"/>
<line x1="244.60" y1="563.05" x2="247.20" y2="563.05" stroke="#888" stroke-width="0.6"/>
<line x1="244.60" y1="552.10" x2="247.20" y2="552.10" stroke="#888" stroke-width="0.6"/>
<line x1="244.60" y1="541.15" x2="247.20" y2="541.15" stroke="#888" stroke-width="0.6"/>
<line x1="244.60" y1="530.20" x2="247.20" y2="530.20" stroke="#888" stroke-width="0.6"/>
<line x1="244.60" y1="519.25" x2="247.20" y2="519.25" stroke="#888" stroke-width="0.6"/>
<line x1="244.60" y1="508.30" x2="247.20" y2="508.30" stroke="#888" stroke-width="0.6"/>
<line x1="244.60" y1="497.35" x2="247.20" y2="497.35" stroke="#888" stroke-width="0.6"/>
<line x1="244.60" y1="486.40" x2="247.20" y2="486.40" stroke="#888" stroke-width="0.6"/>
<line x1="244.60" y1="475.45" x2="247.20" y2="475.45" stroke="#888" stroke-width="0.6"/>
<text x="241.40" y="576.24" font-size="6.3" text-anchor="end">−2</text>
<text x="241.40" y="554.34" font-size="6.3" text-anchor="end">−1</text>
<text x="241.40" y="532.44" font-size="6.3" text-anchor="end">0</text>
<text x="241.40" y="510.54" font-size="6.3" text-anchor="end">1</text>
<text x="241.40" y="488.64" font-size="6.3" text-anchor="end">2</text>
<line x1="246.05" y1="574.30" x2="246.05" y2="571.60" stroke="#888" stroke-width="0.6"/>
<text x="246.05" y="582.14" font-size="6.3" text-anchor="middle">−3</text>
<line x1="268.00" y1="574.30" x2="268.00" y2="571.60" stroke="#888" stroke-width="0.6"/>
<text x="268.00" y="582.14" font-size="6.3" text-anchor="middle">−2</text>
<line x1="289.95" y1="574.30" x2="289.95" y2="571.60" stroke="#888" stroke-width="0.6"/>
<text x="289.95" y="582.14" font-size="6.3" text-anchor="middle">−1</text>
<line x1="311.90" y1="574.30" x2="311.90" y2="571.60" stroke="#888" stroke-width="0.6"/>
<text x="311.90" y="582.14" font-size="6.3" text-anchor="middle">0</text>
<line x1="333.85" y1="574.30" x2="333.85" y2="571.60" stroke="#888" stroke-width="0.6"/>
<text x="333.85" y="582.14" font-size="6.3" text-anchor="middle">1</text>
<line x1="355.80" y1="574.30" x2="355.80" y2="571.60" stroke="#888" stroke-width="0.6"/>
<text x="355.80" y="582.14" font-size="6.3" text-anchor="middle">2</text>
<line x1="377.75" y1="574.30" x2="377.75" y2="571.60" stroke="#888" stroke-width="0.6"/>
<text x="377.75" y="582.14" font-size="6.3" text-anchor="middle">3</text>
<text x="312.8" y="592.25" font-size="6.9" text-anchor="middle" fill="#333">Tpred<tspan dy="1.6" font-size="4.6">1</tspan><tspan dy="-1.6"> (48%)</tspan></text>
<text transform="translate(230.6,524.6) rotate(-90)" x="0" y="2.45" font-size="6.9" text-anchor="middle" fill="#333">Tpred<tspan dy="1.6" font-size="4.6">2</tspan><tspan dy="-1.6"> (22%)</tspan></text>
<rect x="268.10" y="513.10" width="1.60" height="1.60" fill="#4a78c8" stroke="none" stroke-width="0"/>
<rect x="276.60" y="514.10" width="1.60" height="1.60" fill="#4a78c8" stroke="none" stroke-width="0"/>
<rect x="249.90" y="524.70" width="1.60" height="1.60" fill="#4a78c8" stroke="none" stroke-width="0"/>
<rect x="270.60" y="527.90" width="1.60" height="1.60" fill="#4a78c8" stroke="none" stroke-width="0"/>
<rect x="261.20" y="530.40" width="1.60" height="1.60" fill="#4a78c8" stroke="none" stroke-width="0"/>
<rect x="291.60" y="529.70" width="1.60" height="1.60" fill="#4a78c8" stroke="none" stroke-width="0"/>
<rect x="245.20" y="533.50" width="1.60" height="1.60" fill="#4a78c8" stroke="none" stroke-width="0"/>
<rect x="252.40" y="534.10" width="1.60" height="1.60" fill="#4a78c8" stroke="none" stroke-width="0"/>
<rect x="280.70" y="535.70" width="1.60" height="1.60" fill="#4a78c8" stroke="none" stroke-width="0"/>
<rect x="247.70" y="541.30" width="1.60" height="1.60" fill="#4a78c8" stroke="none" stroke-width="0"/>
<rect x="333.40" y="486.50" width="1.60" height="1.60" fill="#f08a3a" stroke="none" stroke-width="0"/>
<rect x="346.50" y="485.50" width="1.60" height="1.60" fill="#f08a3a" stroke="none" stroke-width="0"/>
<rect x="356.60" y="488.00" width="1.60" height="1.60" fill="#f08a3a" stroke="none" stroke-width="0"/>
<rect x="325.20" y="498.40" width="1.60" height="1.60" fill="#f08a3a" stroke="none" stroke-width="0"/>
<rect x="332.40" y="504.30" width="1.60" height="1.60" fill="#f08a3a" stroke="none" stroke-width="0"/>
<rect x="341.20" y="503.10" width="1.60" height="1.60" fill="#f08a3a" stroke="none" stroke-width="0"/>
<rect x="344.00" y="510.90" width="1.60" height="1.60" fill="#f08a3a" stroke="none" stroke-width="0"/>
<rect x="303.20" y="521.90" width="1.60" height="1.60" fill="#f08a3a" stroke="none" stroke-width="0"/>
<rect x="326.50" y="532.60" width="1.60" height="1.60" fill="#f08a3a" stroke="none" stroke-width="0"/>
<rect x="340.30" y="530.70" width="1.60" height="1.60" fill="#f08a3a" stroke="none" stroke-width="0"/>
<rect x="327.70" y="538.20" width="1.60" height="1.60" fill="#808080" stroke="none" stroke-width="0"/>
<rect x="346.50" y="543.50" width="1.60" height="1.60" fill="#808080" stroke="none" stroke-width="0"/>
<rect x="311.10" y="550.10" width="1.60" height="1.60" fill="#808080" stroke="none" stroke-width="0"/>
<rect x="327.70" y="552.30" width="1.60" height="1.60" fill="#808080" stroke="none" stroke-width="0"/>
<rect x="329.30" y="553.90" width="1.60" height="1.60" fill="#808080" stroke="none" stroke-width="0"/>
<rect x="340.90" y="557.00" width="1.60" height="1.60" fill="#808080" stroke="none" stroke-width="0"/>
<rect x="319.20" y="558.30" width="1.60" height="1.60" fill="#808080" stroke="none" stroke-width="0"/>
<rect x="336.50" y="562.70" width="1.60" height="1.60" fill="#808080" stroke="none" stroke-width="0"/>
<rect x="352.20" y="562.00" width="1.60" height="1.60" fill="#808080" stroke="none" stroke-width="0"/>
<path d="M392.2,474.1 L394.0,474.1 L394.0,479.4 Q394.1,479.9 395.1,479.9 L395.1,481.3 Q392.2,481.6 392.2,479.5 Z" fill="#000"/>
<line x1="417.80" y1="479.00" x2="417.80" y2="571.80" stroke="#c4c4c4" stroke-width="0.9"/>
<line x1="417.80" y1="571.80" x2="492.80" y2="571.80" stroke="#c4c4c4" stroke-width="0.9"/>
<line x1="415.80" y1="479.40" x2="417.80" y2="479.40" stroke="#888" stroke-width="0.6"/>
<text x="414.60" y="481.60" font-size="6.2" text-anchor="end">0.8</text>
<line x1="415.80" y1="503.50" x2="417.80" y2="503.50" stroke="#888" stroke-width="0.6"/>
<text x="414.60" y="505.70" font-size="6.2" text-anchor="end">0.4</text>
<line x1="415.80" y1="523.60" x2="417.80" y2="523.60" stroke="#888" stroke-width="0.6"/>
<text x="414.60" y="525.80" font-size="6.2" text-anchor="end">0</text>
<line x1="415.80" y1="550.10" x2="417.80" y2="550.10" stroke="#888" stroke-width="0.6"/>
<text x="414.60" y="552.30" font-size="6.2" text-anchor="end">−0.4</text>
<line x1="415.80" y1="570.90" x2="417.80" y2="570.90" stroke="#888" stroke-width="0.6"/>
<text x="414.60" y="573.10" font-size="6.2" text-anchor="end">−0.8</text>
<line x1="416.50" y1="491.20" x2="417.80" y2="491.20" stroke="#888" stroke-width="0.5"/>
<line x1="416.50" y1="513.50" x2="417.80" y2="513.50" stroke="#888" stroke-width="0.5"/>
<line x1="416.50" y1="536.80" x2="417.80" y2="536.80" stroke="#888" stroke-width="0.5"/>
<line x1="416.50" y1="560.20" x2="417.80" y2="560.20" stroke="#888" stroke-width="0.5"/>
<line x1="418.30" y1="571.80" x2="418.30" y2="570.00" stroke="#888" stroke-width="0.6"/>
<text x="418.30" y="580.20" font-size="6.2" text-anchor="middle">0</text>
<line x1="433.60" y1="571.80" x2="433.60" y2="570.00" stroke="#888" stroke-width="0.6"/>
<text x="433.60" y="580.20" font-size="6.2" text-anchor="middle">0.2</text>
<line x1="448.00" y1="571.80" x2="448.00" y2="570.00" stroke="#888" stroke-width="0.6"/>
<text x="448.00" y="580.20" font-size="6.2" text-anchor="middle">0.4</text>
<line x1="462.80" y1="571.80" x2="462.80" y2="570.00" stroke="#888" stroke-width="0.6"/>
<text x="462.80" y="580.20" font-size="6.2" text-anchor="middle">0.6</text>
<line x1="477.70" y1="571.80" x2="477.70" y2="570.00" stroke="#888" stroke-width="0.6"/>
<text x="477.70" y="580.20" font-size="6.2" text-anchor="middle">0.8</text>
<line x1="492.40" y1="571.80" x2="492.40" y2="570.00" stroke="#888" stroke-width="0.6"/>
<text x="492.40" y="580.20" font-size="6.2" text-anchor="middle">1</text>
<text x="455.30" y="589.93" font-size="7.4" text-anchor="middle">Correlation with design</text>
<text transform="translate(396.6,523.6) rotate(-90)" x="0" y="2.45" font-size="6.9" text-anchor="middle" fill="#333">Q<tspan dy="-2.2" font-size="4.6">2</tspan><tspan dy="2.2"> and R</tspan><tspan dy="-2.2" font-size="4.6">2</tspan></text>
<rect x="418.0" y="502.0" width="2.4" height="22.2" fill="#6cc04a" fill-opacity="0.85"/>
<rect x="420.4" y="502.6" width="1.0" height="21.6" fill="#6cc04a" fill-opacity="0.45"/>
<rect x="418.0" y="524.2" width="2.4" height="33.8" fill="#3a6cc0" fill-opacity="0.85"/>
<rect x="420.4" y="524.2" width="1.0" height="28" fill="#3a6cc0" fill-opacity="0.45"/>
<rect x="418.86" y="559.40" width="1.00" height="1.00" fill="#3a6cc0" stroke="none" stroke-width="0"/>
<rect x="419.01" y="560.46" width="1.00" height="1.00" fill="#3a6cc0" stroke="none" stroke-width="0"/>
<rect x="417.66" y="562.51" width="1.00" height="1.00" fill="#3a6cc0" stroke="none" stroke-width="0"/>
<rect x="419.59" y="557.61" width="1.00" height="1.00" fill="#3a6cc0" stroke="none" stroke-width="0"/>
<rect x="418.09" y="559.57" width="1.00" height="1.00" fill="#3a6cc0" stroke="none" stroke-width="0"/>
<rect x="418.68" y="565.47" width="1.00" height="1.00" fill="#3a6cc0" stroke="none" stroke-width="0"/>
<rect x="418.69" y="564.19" width="1.00" height="1.00" fill="#3a6cc0" stroke="none" stroke-width="0"/>
<rect x="417.88" y="562.61" width="1.00" height="1.00" fill="#3a6cc0" stroke="none" stroke-width="0"/>
<rect x="419.67" y="562.58" width="1.00" height="1.00" fill="#3a6cc0" stroke="none" stroke-width="0"/>
<rect x="419.35" y="561.69" width="1.00" height="1.00" fill="#3a6cc0" stroke="none" stroke-width="0"/>
<line x1="422.60" y1="503.20" x2="422.60" y2="523.00" stroke="#6cc04a" stroke-width="0.9" stroke-opacity="1.0"/>
<line x1="422.60" y1="523.00" x2="422.60" y2="551.00" stroke="#3a6cc0" stroke-width="0.9" stroke-opacity="1.0"/>
<line x1="424.30" y1="503.80" x2="424.30" y2="520.70" stroke="#6cc04a" stroke-width="0.8" stroke-opacity="0.9"/>
<line x1="424.30" y1="520.70" x2="424.30" y2="546.40" stroke="#3a6cc0" stroke-width="0.8" stroke-opacity="0.9"/>
<line x1="427.30" y1="504.30" x2="427.30" y2="518.40" stroke="#6cc04a" stroke-width="0.7" stroke-dasharray="1,0.8" stroke-opacity="0.55"/>
<line x1="427.30" y1="518.40" x2="427.30" y2="547.60" stroke="#3a6cc0" stroke-width="0.7" stroke-dasharray="1,0.8" stroke-opacity="0.55"/>
<line x1="429.60" y1="505.50" x2="429.60" y2="517.00" stroke="#6cc04a" stroke-width="0.6" stroke-dasharray="1,0.8" stroke-opacity="0.45"/>
<line x1="429.60" y1="517.00" x2="429.60" y2="540.00" stroke="#3a6cc0" stroke-width="0.6" stroke-dasharray="1,0.8" stroke-opacity="0.45"/>
<line x1="433.10" y1="504.50" x2="433.10" y2="515.50" stroke="#6cc04a" stroke-width="0.6" stroke-dasharray="1,0.8" stroke-opacity="0.4"/>
<line x1="433.10" y1="515.50" x2="433.10" y2="533.50" stroke="#3a6cc0" stroke-width="0.6" stroke-dasharray="1,0.8" stroke-opacity="0.4"/>
<line x1="436.60" y1="511.50" x2="436.60" y2="516.00" stroke="#6cc04a" stroke-width="0.6" stroke-dasharray="1,0.8" stroke-opacity="0.3"/>
<line x1="436.60" y1="516.00" x2="436.60" y2="529.00" stroke="#3a6cc0" stroke-width="0.6" stroke-dasharray="1,0.8" stroke-opacity="0.3"/>
<rect x="428.95" y="520.95" width="1.10" height="1.10" fill="#3a6cc0" stroke="none" stroke-width="0"/>
<rect x="432.55" y="517.45" width="1.10" height="1.10" fill="#3a6cc0" stroke="none" stroke-width="0"/>
<rect x="436.05" y="518.95" width="1.10" height="1.10" fill="#3a6cc0" stroke="none" stroke-width="0"/>
<rect x="436.05" y="528.25" width="1.10" height="1.10" fill="#3a6cc0" stroke="none" stroke-width="0"/>
<rect x="432.55" y="525.95" width="1.10" height="1.10" fill="#3a6cc0" stroke="none" stroke-width="0"/>
<rect x="425.95" y="544.95" width="1.10" height="1.10" fill="#3a6cc0" stroke="none" stroke-width="0"/>
<rect x="423.45" y="552.95" width="1.10" height="1.10" fill="#3a6cc0" stroke="none" stroke-width="0"/>
<rect x="421.95" y="554.95" width="1.10" height="1.10" fill="#3a6cc0" stroke="none" stroke-width="0"/>
<rect x="420.25" y="557.95" width="1.10" height="1.10" fill="#3a6cc0" stroke="none" stroke-width="0"/>
<rect x="420.45" y="561.45" width="1.10" height="1.10" fill="#3a6cc0" stroke="none" stroke-width="0"/>
<line x1="418.50" y1="515.20" x2="492.80" y2="480.10" stroke="#6cc04a" stroke-width="0.8"/>
<line x1="418.50" y1="537.00" x2="492.80" y2="482.20" stroke="#3a6cc0" stroke-width="0.8"/>
<circle cx="492.80" cy="480.10" r="1.10" fill="#6cc04a" stroke="none" stroke-width="0"/>
<circle cx="492.80" cy="482.20" r="1.10" fill="#3a6cc0" stroke="none" stroke-width="0"/>
<text x="-0.60" y="599.90" font-size="10.5" font-weight="bold" fill="#000">m</text>
<line x1="41.30" y1="597.30" x2="41.30" y2="681.70" stroke="#c4c4c4" stroke-width="0.8"/>
<line x1="41.30" y1="681.70" x2="103.20" y2="681.70" stroke="#c4c4c4" stroke-width="0.8"/>
<line x1="38.70" y1="681.70" x2="41.30" y2="681.70" stroke="#999" stroke-width="0.7"/>
<text x="35.80" y="683.97" font-size="6.4" text-anchor="end">0</text>
<line x1="38.70" y1="653.65" x2="41.30" y2="653.65" stroke="#999" stroke-width="0.7"/>
<text x="35.80" y="655.92" font-size="6.4" text-anchor="end">5</text>
<line x1="38.70" y1="625.60" x2="41.30" y2="625.60" stroke="#999" stroke-width="0.7"/>
<text x="35.80" y="627.87" font-size="6.4" text-anchor="end">10</text>
<line x1="38.70" y1="597.55" x2="41.30" y2="597.55" stroke="#999" stroke-width="0.7"/>
<text x="35.80" y="599.82" font-size="6.4" text-anchor="end">15</text>
<text transform="translate(20.40,639.00) rotate(-90)" x="0" y="2.45" font-size="6.9" text-anchor="middle">TMA (μM)</text>
<circle cx="46.50" cy="677.00" r="1.93" fill="#6e6e6e" stroke="none" stroke-width="0"/>
<circle cx="51.00" cy="676.00" r="1.93" fill="#6e6e6e" stroke="none" stroke-width="0"/>
<circle cx="48.50" cy="679.50" r="1.93" fill="#6e6e6e" stroke="none" stroke-width="0"/>
<circle cx="53.00" cy="679.50" r="1.93" fill="#6e6e6e" stroke="none" stroke-width="0"/>
<circle cx="50.50" cy="680.80" r="1.93" fill="#6e6e6e" stroke="none" stroke-width="0"/>
<circle cx="55.00" cy="680.50" r="1.93" fill="#6e6e6e" stroke="none" stroke-width="0"/>
<circle cx="47.50" cy="681.00" r="1.93" fill="#6e6e6e" stroke="none" stroke-width="0"/>
<line x1="44.40" y1="680.00" x2="57.40" y2="680.00" stroke="#c8c8c8" stroke-width="0.8"/>
<rect x="69.58" y="673.08" width="3.85" height="3.85" fill="#f5913a" stroke="none" stroke-width="0"/>
<rect x="66.58" y="678.58" width="3.85" height="3.85" fill="#f5913a" stroke="none" stroke-width="0"/>
<rect x="70.08" y="678.88" width="3.85" height="3.85" fill="#f5913a" stroke="none" stroke-width="0"/>
<rect x="73.08" y="678.58" width="3.85" height="3.85" fill="#f5913a" stroke="none" stroke-width="0"/>
<rect x="68.08" y="679.28" width="3.85" height="3.85" fill="#f5913a" stroke="none" stroke-width="0"/>
<rect x="71.58" y="679.48" width="3.85" height="3.85" fill="#f5913a" stroke="none" stroke-width="0"/>
<line x1="65.00" y1="680.50" x2="78.00" y2="680.50" stroke="#f8c49a" stroke-width="0.8"/>
<polygon points="91.90,608.58 89.86,612.43 93.94,612.43" fill="#3461b8" stroke="none" stroke-width="0"/>
<polygon points="91.90,619.38 89.86,623.23 93.94,623.23" fill="#3461b8" stroke="none" stroke-width="0"/>
<polygon points="89.20,632.78 87.16,636.63 91.24,636.63" fill="#3461b8" stroke="none" stroke-width="0"/>
<polygon points="95.20,632.78 93.16,636.63 97.24,636.63" fill="#3461b8" stroke="none" stroke-width="0"/>
<polygon points="92.30,646.88 90.26,650.73 94.34,650.73" fill="#3461b8" stroke="none" stroke-width="0"/>
<polygon points="89.20,663.28 87.16,667.13 91.24,667.13" fill="#3461b8" stroke="none" stroke-width="0"/>
<polygon points="97.60,667.28 95.56,671.13 99.64,671.13" fill="#3461b8" stroke="none" stroke-width="0"/>
<polygon points="95.20,672.38 93.16,676.23 97.24,676.23" fill="#3461b8" stroke="none" stroke-width="0"/>
<polygon points="89.20,677.58 87.16,681.43 91.24,681.43" fill="#3461b8" stroke="none" stroke-width="0"/>
<line x1="85.80" y1="648.60" x2="98.80" y2="648.60" stroke="#9ab0dc" stroke-width="0.8"/>
<line x1="92.30" y1="640.60" x2="92.30" y2="657.00" stroke="#555" stroke-width="0.6"/>
<line x1="89.50" y1="640.60" x2="95.10" y2="640.60" stroke="#555" stroke-width="0.6"/>
<line x1="89.50" y1="657.00" x2="95.10" y2="657.00" stroke="#555" stroke-width="0.6"/>
<text x="50.90" y="667.18" font-size="6.6" text-anchor="middle">a</text>
<text x="71.50" y="667.18" font-size="6.6" text-anchor="middle">a</text>
<text x="92.30" y="600.58" font-size="6.6" text-anchor="middle">b</text>
<text x="156.50" y="599.90" font-size="10.5" font-weight="bold" fill="#000">n</text>
<line x1="183.10" y1="598.00" x2="183.10" y2="682.10" stroke="#c4c4c4" stroke-width="0.8"/>
<line x1="183.10" y1="682.10" x2="245.00" y2="682.10" stroke="#c4c4c4" stroke-width="0.8"/>
<line x1="180.50" y1="682.10" x2="183.10" y2="682.10" stroke="#999" stroke-width="0.7"/>
<text x="177.90" y="684.37" font-size="6.4" text-anchor="end">0</text>
<line x1="180.50" y1="654.30" x2="183.10" y2="654.30" stroke="#999" stroke-width="0.7"/>
<text x="177.90" y="656.57" font-size="6.4" text-anchor="end">10</text>
<line x1="180.50" y1="626.50" x2="183.10" y2="626.50" stroke="#999" stroke-width="0.7"/>
<text x="177.90" y="628.77" font-size="6.4" text-anchor="end">20</text>
<line x1="180.50" y1="598.70" x2="183.10" y2="598.70" stroke="#999" stroke-width="0.7"/>
<text x="177.90" y="600.97" font-size="6.4" text-anchor="end">30</text>
<text transform="translate(162.00,639.70) rotate(-90)" x="0" y="2.45" font-size="6.9" text-anchor="middle">TMAO (μM)</text>
<circle cx="193.20" cy="663.70" r="1.93" fill="#6e6e6e" stroke="none" stroke-width="0"/>
<circle cx="193.20" cy="673.70" r="1.93" fill="#6e6e6e" stroke="none" stroke-width="0"/>
<circle cx="190.00" cy="677.00" r="1.93" fill="#6e6e6e" stroke="none" stroke-width="0"/>
<circle cx="196.00" cy="677.50" r="1.93" fill="#6e6e6e" stroke="none" stroke-width="0"/>
<circle cx="191.00" cy="679.50" r="1.93" fill="#6e6e6e" stroke="none" stroke-width="0"/>
<circle cx="195.00" cy="679.70" r="1.93" fill="#6e6e6e" stroke="none" stroke-width="0"/>
<circle cx="198.00" cy="679.00" r="1.93" fill="#6e6e6e" stroke="none" stroke-width="0"/>
<circle cx="189.60" cy="680.00" r="1.93" fill="#6e6e6e" stroke="none" stroke-width="0"/>
<line x1="186.70" y1="676.80" x2="199.70" y2="676.80" stroke="#c8c8c8" stroke-width="0.8"/>
<line x1="193.20" y1="674.50" x2="193.20" y2="679.00" stroke="#555" stroke-width="0.6"/>
<line x1="190.40" y1="674.50" x2="196.00" y2="674.50" stroke="#555" stroke-width="0.6"/>
<line x1="190.40" y1="679.00" x2="196.00" y2="679.00" stroke="#555" stroke-width="0.6"/>
<rect x="212.07" y="663.88" width="3.85" height="3.85" fill="#f5913a" stroke="none" stroke-width="0"/>
<rect x="207.57" y="668.98" width="3.85" height="3.85" fill="#f5913a" stroke="none" stroke-width="0"/>
<rect x="215.97" y="668.28" width="3.85" height="3.85" fill="#f5913a" stroke="none" stroke-width="0"/>
<rect x="211.67" y="672.28" width="3.85" height="3.85" fill="#f5913a" stroke="none" stroke-width="0"/>
<rect x="208.07" y="675.38" width="3.85" height="3.85" fill="#f5913a" stroke="none" stroke-width="0"/>
<rect x="214.07" y="676.08" width="3.85" height="3.85" fill="#f5913a" stroke="none" stroke-width="0"/>
<rect x="210.88" y="678.58" width="3.85" height="3.85" fill="#f5913a" stroke="none" stroke-width="0"/>
<line x1="207.10" y1="674.20" x2="220.10" y2="674.20" stroke="#f8c49a" stroke-width="0.8"/>
<line x1="213.60" y1="671.50" x2="213.60" y2="677.00" stroke="#555" stroke-width="0.6"/>
<line x1="210.80" y1="671.50" x2="216.40" y2="671.50" stroke="#555" stroke-width="0.6"/>
<line x1="210.80" y1="677.00" x2="216.40" y2="677.00" stroke="#555" stroke-width="0.6"/>
<polygon points="231.60,609.98 229.56,613.83 233.64,613.83" fill="#3461b8" stroke="none" stroke-width="0"/>
<polygon points="237.10,608.78 235.06,612.63 239.14,612.63" fill="#3461b8" stroke="none" stroke-width="0"/>
<polygon points="231.60,626.08 229.56,629.93 233.64,629.93" fill="#3461b8" stroke="none" stroke-width="0"/>
<polygon points="237.10,627.98 235.06,631.83 239.14,631.83" fill="#3461b8" stroke="none" stroke-width="0"/>
<polygon points="231.60,653.68 229.56,657.53 233.64,657.53" fill="#3461b8" stroke="none" stroke-width="0"/>
<polygon points="237.10,652.48 235.06,656.33 239.14,656.33" fill="#3461b8" stroke="none" stroke-width="0"/>
<polygon points="231.60,660.88 229.56,664.73 233.64,664.73" fill="#3461b8" stroke="none" stroke-width="0"/>
<polygon points="237.10,663.68 235.06,667.53 239.14,667.53" fill="#3461b8" stroke="none" stroke-width="0"/>
<polygon points="234.00,676.88 231.96,680.73 236.04,680.73" fill="#3461b8" stroke="none" stroke-width="0"/>
<line x1="227.50" y1="644.20" x2="240.50" y2="644.20" stroke="#9ab0dc" stroke-width="0.8"/>
<line x1="234.00" y1="636.00" x2="234.00" y2="652.60" stroke="#555" stroke-width="0.6"/>
<line x1="231.20" y1="636.00" x2="236.80" y2="636.00" stroke="#555" stroke-width="0.6"/>
<line x1="231.20" y1="652.60" x2="236.80" y2="652.60" stroke="#555" stroke-width="0.6"/>
<text x="193.20" y="658.78" font-size="6.6" text-anchor="middle">a</text>
<text x="213.60" y="658.78" font-size="6.6" text-anchor="middle">a</text>
<text x="234.00" y="603.48" font-size="6.6" text-anchor="middle">b</text>
<line x1="294.20" y1="616.30" x2="306.60" y2="616.30" stroke="#a0a0a0" stroke-width="0.9"/>
<circle cx="300.40" cy="616.30" r="2.50" fill="#6a6a6a" stroke="none" stroke-width="0"/>
<text x="310.70" y="618.82" font-size="7.1" fill="#a4a4a4">CHD (2 g choline per kg diet)</text>
<line x1="294.20" y1="635.70" x2="306.60" y2="635.70" stroke="#f8b88a" stroke-width="0.9"/>
<rect x="297.90" y="633.20" width="5.00" height="5.00" fill="#f5913a" stroke="none" stroke-width="0"/>
<text x="310.70" y="638.22" font-size="7.1" fill="#f2a060">LC-HFD (2 g choline per kg diet)</text>
<line x1="294.20" y1="657.70" x2="306.60" y2="657.70" stroke="#8aa6d8" stroke-width="0.9"/>
<polygon points="300.40,654.95 297.75,659.95 303.05,659.95" fill="#3461b8" stroke="none" stroke-width="0"/>
<text x="310.70" y="660.22" font-size="7.1" fill="#3a62b4">HC-HFD (17 g choline per kg diet)</text>
</svg>
</body></html>
